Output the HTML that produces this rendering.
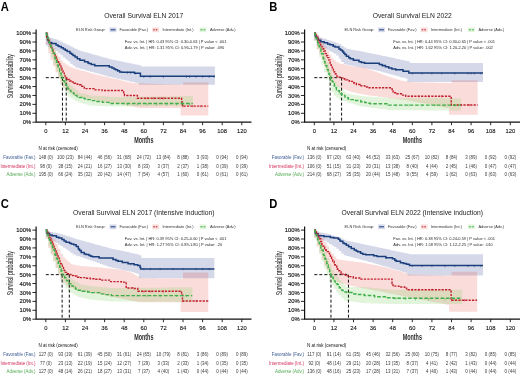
<!DOCTYPE html>
<html><head><meta charset="utf-8"><style>
html,body{margin:0;padding:0;background:#fff;width:520px;height:374px;overflow:hidden}
svg{display:block;filter:blur(0.25px)}
text{font-family:"Liberation Sans", sans-serif}
</style></head><body>
<svg width="520" height="374" viewBox="0 0 520 374">
<rect width="520" height="374" fill="#fff"/>
<g transform="translate(0,0)">
<text transform="translate(0.80,10.80) scale(0.92,1)" font-size="12.2" text-anchor="start" fill="#000" font-weight="bold" >A</text>
<text transform="translate(143.80,18.00) scale(0.845,1)" font-size="8.0" text-anchor="middle" fill="#222" font-weight="normal" >Overall Survival ELN 2017</text>
<text transform="translate(76.10,31.10)" font-size="3.95" text-anchor="start" fill="#333" font-weight="normal" >ELN Risk Group:</text>
<rect x="109.6" y="27.400000000000002" width="6.8" height="4.8" fill="rgba(70,85,160,0.23)"/>
<line x1="110.5" y1="29.8" x2="115.5" y2="29.8" stroke="#1b3f7c" stroke-width="1.0" />
<text transform="translate(119.40,31.10)" font-size="3.95" text-anchor="start" fill="#333" font-weight="normal" >Favorable (Fav.)</text>
<rect x="152.3" y="27.400000000000002" width="6.8" height="4.8" fill="rgba(230,80,70,0.20)"/>
<line x1="153.20000000000002" y1="29.8" x2="158.20000000000002" y2="29.8" stroke="#c0202c" stroke-width="1.0" stroke-dasharray="1.6,0.9"/>
<text transform="translate(162.40,31.10)" font-size="3.95" text-anchor="start" fill="#333" font-weight="normal" >Intermediate (Int.)</text>
<rect x="199.5" y="27.400000000000002" width="6.8" height="4.8" fill="rgba(120,210,90,0.21)"/>
<line x1="200.4" y1="29.8" x2="205.4" y2="29.8" stroke="#3fae48" stroke-width="1.0" stroke-dasharray="2.2,1"/>
<text transform="translate(209.90,31.10)" font-size="3.95" text-anchor="start" fill="#333" font-weight="normal" >Adverse (Adv.)</text>
<text transform="translate(124.80,43.10)" font-size="4.0" text-anchor="start" fill="#2a2a2a" font-weight="normal" >Fav. vs. Int. | HR: 0.43 95% CI: 0.30-0.63 | P value &lt; .001</text>
<text transform="translate(124.80,48.90)" font-size="4.0" text-anchor="start" fill="#2a2a2a" font-weight="normal" >Adv. vs. Int. | HR: 1.31 95% CI: 0.96-1.79 | P value: .090</text>
<path d="M45.80,33.10 H48.25V37.28 H50.70V38.08 H53.15V38.64 H55.60V39.45 H58.05V40.62 H60.50V41.79 H62.95V42.96 H65.40V44.13 H67.85V45.30 H70.30V46.47 H72.75V47.77 H75.20V49.08 H77.65V50.30 H80.10V50.98 H82.55V51.67 H85.00V52.35 H87.45V53.03 H89.90V53.72 H92.35V54.40 H94.80V55.09 H97.25V55.77 H99.70V56.46 H102.15V57.14 H104.60V57.82 H107.05V58.51 H109.50V59.19 H111.95V59.86 H114.40V60.35 H116.85V60.83 H119.30V61.31 H121.75V61.79 H124.20V62.28 H126.65V62.76 H129.10V63.24 H131.55V63.73 H134.00V64.21 H136.45V64.69 H138.90V65.18 H141.35V66.51 H143.80V66.51 H146.25V66.51 H148.70V66.51 H151.15V66.51 H153.60V66.51 H156.05V66.51 H158.50V66.51 H160.95V66.51 H163.40V66.51 H165.85V66.51 H168.30V66.51 H170.75V66.51 H173.20V66.51 H175.65V66.51 H178.10V66.51 H180.55V66.51 H183.00V66.51 H185.45V66.51 H187.90V66.51 H190.35V66.51 H192.80V66.51 H195.25V66.51 H197.70V66.51 H200.15V66.51 H202.60V66.51 H205.05V66.51 H207.50V66.51 H209.95V66.51 H212.40V66.51 H214.85V66.51 V84.78 V84.78H212.40 V84.78H209.95 V84.78H207.50 V84.78H205.05 V84.78H202.60 V84.78H200.15 V84.78H197.70 V84.78H195.25 V84.78H192.80 V84.78H190.35 V84.78H187.90 V84.78H185.45 V84.78H183.00 V84.78H180.55 V84.78H178.10 V84.78H175.65 V84.78H173.20 V84.78H170.75 V84.78H168.30 V84.78H165.85 V84.78H163.40 V84.78H160.95 V84.78H158.50 V84.78H156.05 V84.78H153.60 V84.78H151.15 V84.78H148.70 V84.78H146.25 V84.78H143.80 V84.78H141.35 V84.78H138.90 V83.00H136.45 V82.46H134.00 V81.92H131.55 V81.38H129.10 V80.84H126.65 V80.30H124.20 V79.76H121.75 V79.22H119.30 V78.68H116.85 V78.14H114.40 V77.60H111.95 V77.06H109.50 V76.39H107.05 V75.72H104.60 V75.04H102.15 V74.36H99.70 V73.68H97.25 V73.00H94.80 V72.33H92.35 V71.65H89.90 V70.97H87.45 V70.29H85.00 V69.62H82.55 V68.94H80.10 V68.26H77.65 V67.58H75.20 V65.71H72.75 V63.66H70.30 V61.61H67.85 V59.52H65.40 V57.44H62.95 V55.35H60.50 V53.26H58.05 V51.17H55.60 V49.08H53.15 V47.82H50.70 V47.12H48.25 V45.63H45.80 V33.10Z" fill="rgba(70,85,160,0.23)"/>
<path d="M45.80,33.10 H48.25V38.24 H50.70V43.30 H53.15V48.12 H55.60V52.95 H58.05V56.75 H60.50V60.40 H62.95V62.73 H65.40V64.40 H67.85V66.07 H70.30V67.33 H72.75V68.13 H75.20V68.94 H77.65V69.72 H80.10V70.40 H82.55V71.08 H85.00V71.76 H87.45V72.45 H89.90V73.13 H92.35V73.81 H94.80V74.48 H97.25V75.05 H99.70V75.62 H102.15V76.20 H104.60V76.77 H107.05V77.34 H109.50V77.91 H111.95V78.48 H114.40V79.05 H116.85V79.62 H119.30V80.20 H121.75V80.78 H124.20V81.39 H126.65V81.99 H129.10V82.59 H131.55V83.02 H134.00V83.11 H136.45V83.20 H138.90V83.28 H141.35V83.37 H143.80V83.46 H146.25V83.54 H148.70V83.63 H151.15V83.71 H153.60V83.80 H156.05V83.89 H158.50V83.97 H160.95V84.06 H163.40V84.15 H165.85V84.23 H168.30V84.32 H170.75V84.40 H173.20V84.49 H175.65V84.58 H178.10V84.66 H180.55V84.75 H183.00V82.37 H185.45V82.37 H187.90V82.37 H190.35V82.37 H192.80V82.37 H195.25V82.37 H197.70V82.37 H200.15V82.37 H202.60V82.37 H205.05V82.37 H207.50V82.37 H208.31V82.37 V115.52 V115.52H207.50 V115.52H205.05 V115.52H202.60 V115.52H200.15 V115.52H197.70 V115.52H195.25 V115.52H192.80 V115.52H190.35 V115.52H187.90 V115.52H185.45 V115.52H183.00 V115.52H180.55 V107.94H178.10 V107.94H175.65 V107.94H173.20 V107.94H170.75 V107.94H168.30 V107.94H165.85 V107.94H163.40 V107.94H160.95 V107.94H158.50 V107.94H156.05 V107.94H153.60 V107.94H151.15 V107.94H148.70 V107.94H146.25 V107.94H143.80 V107.94H141.35 V107.94H138.90 V107.59H136.45 V107.05H134.00 V106.52H131.55 V105.98H129.10 V105.45H126.65 V104.91H124.20 V104.38H121.75 V104.06H119.30 V103.74H116.85 V103.42H114.40 V103.10H111.95 V102.78H109.50 V102.46H107.05 V102.13H104.60 V101.81H102.15 V101.49H99.70 V101.17H97.25 V100.60H94.80 V100.04H92.35 V99.47H89.90 V98.90H87.45 V98.33H85.00 V97.76H82.55 V97.19H80.10 V96.62H77.65 V96.04H75.20 V95.47H72.75 V93.56H70.30 V91.65H67.85 V89.74H65.40 V87.30H62.95 V83.40H60.50 V78.24H58.05 V72.45H55.60 V66.27H53.15 V59.89H50.70 V53.51H48.25 V43.89H45.80 V33.10Z" fill="rgba(230,80,70,0.20)"/>
<path d="M45.80,33.10 H48.25V38.45 H50.70V43.79 H53.15V49.14 H55.60V55.38 H58.05V62.06 H60.50V68.74 H62.95V74.64 H65.40V78.99 H67.85V83.33 H70.30V86.11 H72.75V88.12 H75.20V90.12 H77.65V92.13 H80.10V93.18 H82.55V93.75 H85.00V94.32 H87.45V94.90 H89.90V95.47 H92.35V95.65 H94.80V95.83 H97.25V96.00 H99.70V96.18 H102.15V96.36 H104.60V96.54 H107.05V96.72 H109.50V96.90 H111.95V97.07 H114.40V97.25 H116.85V97.21 H119.30V97.17 H121.75V97.14 H124.20V97.10 H126.65V97.06 H129.10V97.02 H131.55V96.98 H134.00V96.94 H136.45V96.90 H138.90V96.86 H141.35V96.82 H143.80V96.78 H146.25V96.75 H148.70V96.71 H151.15V96.67 H153.60V96.63 H156.05V96.59 H158.50V96.55 H160.95V96.51 H163.40V96.47 H165.85V96.43 H168.30V96.39 H170.75V96.36 H173.20V96.32 H175.65V96.28 H178.10V96.24 H180.55V96.20 H183.00V96.16 H185.45V96.12 H187.90V96.08 H190.35V96.04 H192.80V96.00 V105.72 V105.72H190.35 V105.74H187.90 V105.77H185.45 V105.80H183.00 V105.83H180.55 V105.86H178.10 V105.88H175.65 V105.91H173.20 V105.94H170.75 V105.97H168.30 V105.99H165.85 V106.02H163.40 V106.05H160.95 V106.08H158.50 V106.11H156.05 V106.13H153.60 V106.16H151.15 V106.19H148.70 V106.22H146.25 V106.25H143.80 V106.27H141.35 V106.30H138.90 V106.33H136.45 V106.36H134.00 V106.38H131.55 V106.41H129.10 V106.44H126.65 V106.47H124.20 V106.50H121.75 V106.52H119.30 V106.55H116.85 V106.58H114.40 V106.61H111.95 V106.47H109.50 V106.34H107.05 V106.21H104.60 V106.07H102.15 V105.94H99.70 V105.81H97.25 V105.67H94.80 V105.54H92.35 V105.40H89.90 V105.27H87.45 V104.51H85.00 V103.74H82.55 V102.98H80.10 V102.22H77.65 V101.19H75.20 V99.63H72.75 V98.07H70.30 V96.51H67.85 V93.91H65.40 V89.23H62.95 V84.56H60.50 V78.36H58.05 V71.41H55.60 V64.46H53.15 V57.16H50.70 V49.14H48.25 V41.12H45.80 V33.10Z" fill="rgba(120,210,90,0.21)"/>
<path d="M45.80,77.65H66.22" stroke="#111" stroke-width="1.0" stroke-dasharray="3,2" fill="none"/>
<path d="M62.46,77.65V122.20" stroke="#111" stroke-width="1.0" stroke-dasharray="3,2" fill="none"/>
<path d="M66.22,77.65V122.20" stroke="#111" stroke-width="1.0" stroke-dasharray="3,2" fill="none"/>
<path d="M45.80,33.10 H46.65V36.76 H47.55V39.22 H48.02V40.48 H49.11V42.58 H51.72V43.45 H56.02V45.11 H58.00V46.08 H59.02V46.58 H61.23V47.67 H63.35V49.00 H65.24V50.19 H67.18V51.42 H69.97V53.18 H71.55V54.30 H72.96V55.38 H75.00V56.93 H77.27V58.67 H79.88V60.22 H84.56V61.87 H87.98V63.08 H89.05V63.54 H91.26V64.52 H94.74V65.78 H109.26V67.06 H111.96V68.04 H113.96V69.04 H115.56V69.84 H117.60V70.86 H119.64V71.89 H121.94V72.27 H134.46V73.28 H140.43V76.34 H214.85" stroke="#1b3f7c" stroke-width="1.5" fill="none" />
<path d="M45.80,33.10 H46.81V37.16 H47.99V40.56 H49.15V43.09 H49.94V44.81 H50.88V47.01 H52.17V50.07 H53.03V52.08 H53.44V53.07 H54.08V54.58 H55.11V57.02 H56.17V59.39 H57.09V61.05 H57.50V61.79 H58.66V63.91 H59.78V65.95 H60.97V68.12 H61.94V69.99 H63.11V72.37 H64.31V74.79 H64.96V76.11 H65.51V77.21 H65.97V77.86 H66.87V78.63 H67.83V79.45 H69.57V80.93 H71.04V82.00 H74.14V83.22 H77.21V84.42 H78.21V84.82 H80.97V86.26 H84.24V88.08 H85.26V88.65 H93.92V89.86 H102.13V90.53 H123.70V92.74 H124.50V95.47 H137.38V98.32 H181.60V102.05 H182.37V106.16 H208.31" stroke="#c0202c" stroke-width="1.4" fill="none" stroke-dasharray="2.2,1.2"/>
<path d="M45.80,33.10 H46.33V34.55 H46.80V35.82 H47.51V37.75 H48.33V40.00 H49.09V42.08 H49.57V43.39 H50.66V46.35 H51.25V47.96 H52.43V51.18 H53.16V53.18 H54.72V57.47 H55.24V58.94 H55.90V60.79 H56.46V62.34 H57.39V64.94 H58.25V67.33 H58.70V68.60 H59.67V71.30 H60.33V73.15 H61.11V75.33 H62.17V78.25 H62.78V79.39 H63.61V80.96 H64.62V82.84 H65.83V85.10 H66.57V86.51 H67.91V89.02 H68.87V90.40 H70.87V91.90 H71.84V92.64 H73.51V93.89 H75.48V95.38 H76.92V96.46 H79.22V97.56 H82.11V98.27 H84.62V98.89 H87.72V99.65 H92.42V100.63 H97.02V101.43 H102.46V102.37 H108.93V103.49 H192.80" stroke="#3fae48" stroke-width="1.4" fill="none" stroke-dasharray="3.6,1.8"/>
<line x1="117.67" y1="69.80" x2="117.67" y2="72.00" stroke="#1b3f7c" stroke-width="0.6"/>
<line x1="127.46" y1="71.62" x2="127.46" y2="73.82" stroke="#1b3f7c" stroke-width="0.6"/>
<line x1="130.73" y1="71.88" x2="130.73" y2="74.08" stroke="#1b3f7c" stroke-width="0.6"/>
<line x1="135.63" y1="72.27" x2="135.63" y2="74.47" stroke="#1b3f7c" stroke-width="0.6"/>
<line x1="143.80" y1="75.66" x2="143.80" y2="77.86" stroke="#1b3f7c" stroke-width="0.6"/>
<line x1="150.33" y1="75.66" x2="150.33" y2="77.86" stroke="#1b3f7c" stroke-width="0.6"/>
<line x1="163.40" y1="75.66" x2="163.40" y2="77.86" stroke="#1b3f7c" stroke-width="0.6"/>
<line x1="186.26" y1="75.66" x2="186.26" y2="77.86" stroke="#1b3f7c" stroke-width="0.6"/>
<line x1="189.53" y1="75.66" x2="189.53" y2="77.86" stroke="#1b3f7c" stroke-width="0.6"/>
<line x1="196.06" y1="75.66" x2="196.06" y2="77.86" stroke="#1b3f7c" stroke-width="0.6"/>
<line x1="202.60" y1="75.66" x2="202.60" y2="77.86" stroke="#1b3f7c" stroke-width="0.6"/>
<line x1="209.13" y1="75.66" x2="209.13" y2="77.86" stroke="#1b3f7c" stroke-width="0.6"/>
<line x1="214.03" y1="75.66" x2="214.03" y2="77.86" stroke="#1b3f7c" stroke-width="0.6"/>
<line x1="147.06" y1="97.22" x2="147.06" y2="99.42" stroke="#c0202c" stroke-width="0.6"/>
<line x1="153.60" y1="97.22" x2="153.60" y2="99.42" stroke="#c0202c" stroke-width="0.6"/>
<line x1="160.13" y1="97.22" x2="160.13" y2="99.42" stroke="#c0202c" stroke-width="0.6"/>
<line x1="163.40" y1="97.22" x2="163.40" y2="99.42" stroke="#c0202c" stroke-width="0.6"/>
<line x1="183.00" y1="105.06" x2="183.00" y2="107.26" stroke="#c0202c" stroke-width="0.6"/>
<line x1="192.80" y1="105.06" x2="192.80" y2="107.26" stroke="#c0202c" stroke-width="0.6"/>
<line x1="200.96" y1="105.06" x2="200.96" y2="107.26" stroke="#c0202c" stroke-width="0.6"/>
<line x1="127.46" y1="103.28" x2="127.46" y2="105.48" stroke="#3fae48" stroke-width="0.6"/>
<line x1="137.26" y1="103.28" x2="137.26" y2="105.48" stroke="#3fae48" stroke-width="0.6"/>
<line x1="147.06" y1="103.28" x2="147.06" y2="105.48" stroke="#3fae48" stroke-width="0.6"/>
<line x1="156.86" y1="103.28" x2="156.86" y2="105.48" stroke="#3fae48" stroke-width="0.6"/>
<line x1="166.66" y1="103.28" x2="166.66" y2="105.48" stroke="#3fae48" stroke-width="0.6"/>
<line x1="176.46" y1="103.28" x2="176.46" y2="105.48" stroke="#3fae48" stroke-width="0.6"/>
<line x1="183.00" y1="103.28" x2="183.00" y2="105.48" stroke="#3fae48" stroke-width="0.6"/>
<line x1="189.53" y1="103.28" x2="189.53" y2="105.48" stroke="#3fae48" stroke-width="0.6"/>
<path d="M36.1,29.6V122.20H251.5" stroke="#111" stroke-width="1.2" fill="none"/>
<line x1="32.4" y1="122.20" x2="36.1" y2="122.20" stroke="#111" stroke-width="0.9"/>
<text transform="translate(31.10,124.25)" font-size="5.85" text-anchor="end" fill="#111" font-weight="normal" stroke="#111" stroke-width="0.14">0%</text>
<line x1="32.4" y1="113.29" x2="36.1" y2="113.29" stroke="#111" stroke-width="0.9"/>
<text transform="translate(31.10,115.34)" font-size="5.85" text-anchor="end" fill="#111" font-weight="normal" stroke="#111" stroke-width="0.14">10%</text>
<line x1="32.4" y1="104.38" x2="36.1" y2="104.38" stroke="#111" stroke-width="0.9"/>
<text transform="translate(31.10,106.43)" font-size="5.85" text-anchor="end" fill="#111" font-weight="normal" stroke="#111" stroke-width="0.14">20%</text>
<line x1="32.4" y1="95.47" x2="36.1" y2="95.47" stroke="#111" stroke-width="0.9"/>
<text transform="translate(31.10,97.52)" font-size="5.85" text-anchor="end" fill="#111" font-weight="normal" stroke="#111" stroke-width="0.14">30%</text>
<line x1="32.4" y1="86.56" x2="36.1" y2="86.56" stroke="#111" stroke-width="0.9"/>
<text transform="translate(31.10,88.61)" font-size="5.85" text-anchor="end" fill="#111" font-weight="normal" stroke="#111" stroke-width="0.14">40%</text>
<line x1="32.4" y1="77.65" x2="36.1" y2="77.65" stroke="#111" stroke-width="0.9"/>
<text transform="translate(31.10,79.70)" font-size="5.85" text-anchor="end" fill="#111" font-weight="normal" stroke="#111" stroke-width="0.14">50%</text>
<line x1="32.4" y1="68.74" x2="36.1" y2="68.74" stroke="#111" stroke-width="0.9"/>
<text transform="translate(31.10,70.79)" font-size="5.85" text-anchor="end" fill="#111" font-weight="normal" stroke="#111" stroke-width="0.14">60%</text>
<line x1="32.4" y1="59.83" x2="36.1" y2="59.83" stroke="#111" stroke-width="0.9"/>
<text transform="translate(31.10,61.88)" font-size="5.85" text-anchor="end" fill="#111" font-weight="normal" stroke="#111" stroke-width="0.14">70%</text>
<line x1="32.4" y1="50.92" x2="36.1" y2="50.92" stroke="#111" stroke-width="0.9"/>
<text transform="translate(31.10,52.97)" font-size="5.85" text-anchor="end" fill="#111" font-weight="normal" stroke="#111" stroke-width="0.14">80%</text>
<line x1="32.4" y1="42.01" x2="36.1" y2="42.01" stroke="#111" stroke-width="0.9"/>
<text transform="translate(31.10,44.06)" font-size="5.85" text-anchor="end" fill="#111" font-weight="normal" stroke="#111" stroke-width="0.14">90%</text>
<line x1="32.4" y1="33.10" x2="36.1" y2="33.10" stroke="#111" stroke-width="0.9"/>
<text transform="translate(31.10,35.15)" font-size="5.85" text-anchor="end" fill="#111" font-weight="normal" stroke="#111" stroke-width="0.14">100%</text>
<line x1="45.80" y1="122.2" x2="45.80" y2="125.2" stroke="#111" stroke-width="0.9"/>
<text transform="translate(45.80,132.90)" font-size="5.85" text-anchor="middle" fill="#111" font-weight="normal" stroke="#111" stroke-width="0.1">0</text>
<line x1="65.40" y1="122.2" x2="65.40" y2="125.2" stroke="#111" stroke-width="0.9"/>
<text transform="translate(65.40,132.90)" font-size="5.85" text-anchor="middle" fill="#111" font-weight="normal" stroke="#111" stroke-width="0.1">12</text>
<line x1="85.00" y1="122.2" x2="85.00" y2="125.2" stroke="#111" stroke-width="0.9"/>
<text transform="translate(85.00,132.90)" font-size="5.85" text-anchor="middle" fill="#111" font-weight="normal" stroke="#111" stroke-width="0.1">24</text>
<line x1="104.60" y1="122.2" x2="104.60" y2="125.2" stroke="#111" stroke-width="0.9"/>
<text transform="translate(104.60,132.90)" font-size="5.85" text-anchor="middle" fill="#111" font-weight="normal" stroke="#111" stroke-width="0.1">36</text>
<line x1="124.20" y1="122.2" x2="124.20" y2="125.2" stroke="#111" stroke-width="0.9"/>
<text transform="translate(124.20,132.90)" font-size="5.85" text-anchor="middle" fill="#111" font-weight="normal" stroke="#111" stroke-width="0.1">48</text>
<line x1="143.80" y1="122.2" x2="143.80" y2="125.2" stroke="#111" stroke-width="0.9"/>
<text transform="translate(143.80,132.90)" font-size="5.85" text-anchor="middle" fill="#111" font-weight="normal" stroke="#111" stroke-width="0.1">60</text>
<line x1="163.40" y1="122.2" x2="163.40" y2="125.2" stroke="#111" stroke-width="0.9"/>
<text transform="translate(163.40,132.90)" font-size="5.85" text-anchor="middle" fill="#111" font-weight="normal" stroke="#111" stroke-width="0.1">72</text>
<line x1="183.00" y1="122.2" x2="183.00" y2="125.2" stroke="#111" stroke-width="0.9"/>
<text transform="translate(183.00,132.90)" font-size="5.85" text-anchor="middle" fill="#111" font-weight="normal" stroke="#111" stroke-width="0.1">84</text>
<line x1="202.60" y1="122.2" x2="202.60" y2="125.2" stroke="#111" stroke-width="0.9"/>
<text transform="translate(202.60,132.90)" font-size="5.85" text-anchor="middle" fill="#111" font-weight="normal" stroke="#111" stroke-width="0.1">96</text>
<line x1="222.20" y1="122.2" x2="222.20" y2="125.2" stroke="#111" stroke-width="0.9"/>
<text transform="translate(222.20,132.90)" font-size="5.85" text-anchor="middle" fill="#111" font-weight="normal" stroke="#111" stroke-width="0.1">108</text>
<line x1="241.80" y1="122.2" x2="241.80" y2="125.2" stroke="#111" stroke-width="0.9"/>
<text transform="translate(241.80,132.90)" font-size="5.85" text-anchor="middle" fill="#111" font-weight="normal" stroke="#111" stroke-width="0.1">120</text>
<text transform="translate(143.80,143.10) scale(0.64,1)" font-size="8.5" text-anchor="middle" fill="#2a2a2a" font-weight="bold" >Months</text>
<text transform="translate(13.4,76.2) rotate(-90) scale(0.56,1)" font-size="9.4" text-anchor="middle" fill="#2a2a2a" font-weight="normal" stroke="#2a2a2a" stroke-width="0.05">Survival probability</text>
<text transform="translate(38.40,150.00)" font-size="4.5" text-anchor="start" fill="#111" font-weight="normal" >N at risk (censored)</text>
<text transform="translate(35.50,158.80) scale(0.97,1)" font-size="4.6" text-anchor="end" fill="#3d5a94" font-weight="normal" >Favorable (Fav.)</text>
<text transform="translate(45.80,158.80) scale(0.9,1)" font-size="5.0" text-anchor="middle" fill="#3a3a3a" font-weight="normal" >148 (0)</text>
<text transform="translate(65.40,158.80) scale(0.9,1)" font-size="5.0" text-anchor="middle" fill="#3a3a3a" font-weight="normal" >100 (23)</text>
<text transform="translate(85.00,158.80) scale(0.9,1)" font-size="5.0" text-anchor="middle" fill="#3a3a3a" font-weight="normal" >84 (44)</text>
<text transform="translate(104.60,158.80) scale(0.9,1)" font-size="5.0" text-anchor="middle" fill="#3a3a3a" font-weight="normal" >46 (56)</text>
<text transform="translate(124.20,158.80) scale(0.9,1)" font-size="5.0" text-anchor="middle" fill="#3a3a3a" font-weight="normal" >31 (68)</text>
<text transform="translate(143.80,158.80) scale(0.9,1)" font-size="5.0" text-anchor="middle" fill="#3a3a3a" font-weight="normal" >24 (72)</text>
<text transform="translate(163.40,158.80) scale(0.9,1)" font-size="5.0" text-anchor="middle" fill="#3a3a3a" font-weight="normal" >13 (84)</text>
<text transform="translate(183.00,158.80) scale(0.9,1)" font-size="5.0" text-anchor="middle" fill="#3a3a3a" font-weight="normal" >8 (88)</text>
<text transform="translate(202.60,158.80) scale(0.9,1)" font-size="5.0" text-anchor="middle" fill="#3a3a3a" font-weight="normal" >3 (93)</text>
<text transform="translate(222.20,158.80) scale(0.9,1)" font-size="5.0" text-anchor="middle" fill="#3a3a3a" font-weight="normal" >0 (94)</text>
<text transform="translate(241.80,158.80) scale(0.9,1)" font-size="5.0" text-anchor="middle" fill="#3a3a3a" font-weight="normal" >0 (94)</text>
<text transform="translate(35.50,167.50) scale(0.97,1)" font-size="4.6" text-anchor="end" fill="#d2305f" font-weight="normal" >Intermediate (Int.)</text>
<text transform="translate(45.80,167.50) scale(0.9,1)" font-size="5.0" text-anchor="middle" fill="#3a3a3a" font-weight="normal" >98 (0)</text>
<text transform="translate(65.40,167.50) scale(0.9,1)" font-size="5.0" text-anchor="middle" fill="#3a3a3a" font-weight="normal" >38 (15)</text>
<text transform="translate(85.00,167.50) scale(0.9,1)" font-size="5.0" text-anchor="middle" fill="#3a3a3a" font-weight="normal" >24 (21)</text>
<text transform="translate(104.60,167.50) scale(0.9,1)" font-size="5.0" text-anchor="middle" fill="#3a3a3a" font-weight="normal" >16 (27)</text>
<text transform="translate(124.20,167.50) scale(0.9,1)" font-size="5.0" text-anchor="middle" fill="#3a3a3a" font-weight="normal" >13 (30)</text>
<text transform="translate(143.80,167.50) scale(0.9,1)" font-size="5.0" text-anchor="middle" fill="#3a3a3a" font-weight="normal" >8 (33)</text>
<text transform="translate(163.40,167.50) scale(0.9,1)" font-size="5.0" text-anchor="middle" fill="#3a3a3a" font-weight="normal" >3 (37)</text>
<text transform="translate(183.00,167.50) scale(0.9,1)" font-size="5.0" text-anchor="middle" fill="#3a3a3a" font-weight="normal" >2 (37)</text>
<text transform="translate(202.60,167.50) scale(0.9,1)" font-size="5.0" text-anchor="middle" fill="#3a3a3a" font-weight="normal" >1 (38)</text>
<text transform="translate(222.20,167.50) scale(0.9,1)" font-size="5.0" text-anchor="middle" fill="#3a3a3a" font-weight="normal" >0 (39)</text>
<text transform="translate(241.80,167.50) scale(0.9,1)" font-size="5.0" text-anchor="middle" fill="#3a3a3a" font-weight="normal" >0 (39)</text>
<text transform="translate(35.50,176.00) scale(0.97,1)" font-size="4.6" text-anchor="end" fill="#52a852" font-weight="normal" >Adverse (Adv.)</text>
<text transform="translate(45.80,176.00) scale(0.9,1)" font-size="5.0" text-anchor="middle" fill="#3a3a3a" font-weight="normal" >195 (0)</text>
<text transform="translate(65.40,176.00) scale(0.9,1)" font-size="5.0" text-anchor="middle" fill="#3a3a3a" font-weight="normal" >66 (24)</text>
<text transform="translate(85.00,176.00) scale(0.9,1)" font-size="5.0" text-anchor="middle" fill="#3a3a3a" font-weight="normal" >35 (32)</text>
<text transform="translate(104.60,176.00) scale(0.9,1)" font-size="5.0" text-anchor="middle" fill="#3a3a3a" font-weight="normal" >20 (42)</text>
<text transform="translate(124.20,176.00) scale(0.9,1)" font-size="5.0" text-anchor="middle" fill="#3a3a3a" font-weight="normal" >14 (47)</text>
<text transform="translate(143.80,176.00) scale(0.9,1)" font-size="5.0" text-anchor="middle" fill="#3a3a3a" font-weight="normal" >7 (54)</text>
<text transform="translate(163.40,176.00) scale(0.9,1)" font-size="5.0" text-anchor="middle" fill="#3a3a3a" font-weight="normal" >4 (57)</text>
<text transform="translate(183.00,176.00) scale(0.9,1)" font-size="5.0" text-anchor="middle" fill="#3a3a3a" font-weight="normal" >1 (60)</text>
<text transform="translate(202.60,176.00) scale(0.9,1)" font-size="5.0" text-anchor="middle" fill="#3a3a3a" font-weight="normal" >0 (61)</text>
<text transform="translate(222.20,176.00) scale(0.9,1)" font-size="5.0" text-anchor="middle" fill="#3a3a3a" font-weight="normal" >0 (61)</text>
<text transform="translate(241.80,176.00) scale(0.9,1)" font-size="5.0" text-anchor="middle" fill="#3a3a3a" font-weight="normal" >0 (61)</text>
</g>
<g transform="translate(268.5,0)">
<text transform="translate(0.80,10.80) scale(0.92,1)" font-size="12.2" text-anchor="start" fill="#000" font-weight="bold" >B</text>
<text transform="translate(143.80,18.00) scale(0.845,1)" font-size="8.0" text-anchor="middle" fill="#222" font-weight="normal" >Overall Survival ELN 2022</text>
<text transform="translate(76.10,31.10)" font-size="3.95" text-anchor="start" fill="#333" font-weight="normal" >ELN Risk Group:</text>
<rect x="109.6" y="27.400000000000002" width="6.8" height="4.8" fill="rgba(70,85,160,0.23)"/>
<line x1="110.5" y1="29.8" x2="115.5" y2="29.8" stroke="#1b3f7c" stroke-width="1.0" />
<text transform="translate(119.40,31.10)" font-size="3.95" text-anchor="start" fill="#333" font-weight="normal" >Favorable (Fav.)</text>
<rect x="152.3" y="27.400000000000002" width="6.8" height="4.8" fill="rgba(230,80,70,0.20)"/>
<line x1="153.20000000000002" y1="29.8" x2="158.20000000000002" y2="29.8" stroke="#c0202c" stroke-width="1.0" stroke-dasharray="1.6,0.9"/>
<text transform="translate(162.40,31.10)" font-size="3.95" text-anchor="start" fill="#333" font-weight="normal" >Intermediate (Int.)</text>
<rect x="199.5" y="27.400000000000002" width="6.8" height="4.8" fill="rgba(120,210,90,0.21)"/>
<line x1="200.4" y1="29.8" x2="205.4" y2="29.8" stroke="#3fae48" stroke-width="1.0" stroke-dasharray="2.2,1"/>
<text transform="translate(209.90,31.10)" font-size="3.95" text-anchor="start" fill="#333" font-weight="normal" >Adverse (Adv.)</text>
<text transform="translate(124.80,43.10)" font-size="4.0" text-anchor="start" fill="#2a2a2a" font-weight="normal" >Fav. vs. Int. | HR: 0.44 95% CI: 0.30-0.65 | P value &lt; .001</text>
<text transform="translate(124.80,48.90)" font-size="4.0" text-anchor="start" fill="#2a2a2a" font-weight="normal" >Adv. vs. Int. | HR: 1.62 95% CI: 1.20-2.20 | P value: .002</text>
<path d="M45.80,33.10 H48.25V35.58 H50.70V37.67 H53.15V38.24 H55.60V38.80 H58.05V39.68 H60.50V40.56 H62.95V41.44 H65.40V42.32 H67.85V43.20 H70.30V44.32 H72.75V45.89 H75.20V47.46 H77.65V48.68 H80.10V49.16 H82.55V49.65 H85.00V50.13 H87.45V50.62 H89.90V51.10 H92.35V51.59 H94.80V52.07 H97.25V52.56 H99.70V53.04 H102.15V53.53 H104.60V54.02 H107.05V54.50 H109.50V54.99 H111.95V55.48 H114.40V56.01 H116.85V56.53 H119.30V57.06 H121.75V57.58 H124.20V58.11 H126.65V58.63 H129.10V59.16 H131.55V59.68 H134.00V60.21 H136.45V60.73 H138.90V61.26 H141.35V63.04 H143.80V63.04 H146.25V63.04 H148.70V63.04 H151.15V63.04 H153.60V63.04 H156.05V63.04 H158.50V63.04 H160.95V63.04 H163.40V63.04 H165.85V63.04 H168.30V63.04 H170.75V63.04 H173.20V63.04 H175.65V63.04 H178.10V63.04 H180.55V63.04 H183.00V63.04 H185.45V63.04 H187.90V63.04 H190.35V63.04 H192.80V63.04 H195.25V63.04 H197.70V63.04 H200.15V63.04 H202.60V63.04 H205.05V63.04 H207.50V63.04 H209.95V63.04 H212.40V63.04 H214.52V63.04 V81.93 V81.93H212.40 V81.93H209.95 V81.93H207.50 V81.93H205.05 V81.93H202.60 V81.93H200.15 V81.93H197.70 V81.93H195.25 V81.93H192.80 V81.93H190.35 V81.93H187.90 V81.93H185.45 V81.93H183.00 V81.93H180.55 V81.93H178.10 V81.93H175.65 V81.93H173.20 V81.93H170.75 V81.93H168.30 V81.93H165.85 V81.93H163.40 V81.93H160.95 V81.93H158.50 V81.93H156.05 V81.93H153.60 V81.93H151.15 V81.93H148.70 V81.93H146.25 V81.93H143.80 V81.93H141.35 V81.93H138.90 V78.50H136.45 V77.82H134.00 V77.15H131.55 V76.48H129.10 V75.81H126.65 V75.13H124.20 V74.46H121.75 V73.79H119.30 V73.12H116.85 V72.45H114.40 V71.77H111.95 V71.10H109.50 V70.57H107.05 V70.08H104.60 V69.59H102.15 V69.10H99.70 V68.61H97.25 V68.12H94.80 V67.62H92.35 V67.13H89.90 V66.64H87.45 V66.15H85.00 V65.66H82.55 V65.17H80.10 V64.67H77.65 V64.18H75.20 V61.90H72.75 V58.72H70.30 V55.54H67.85 V53.65H65.40 V52.39H62.95 V51.13H60.50 V49.87H58.05 V48.61H55.60 V47.36H53.15 V46.55H50.70 V45.74H48.25 V40.03H45.80 V33.10Z" fill="rgba(70,85,160,0.23)"/>
<path d="M45.80,33.10 H48.25V35.33 H50.70V37.56 H53.15V42.01 H55.60V46.47 H58.05V50.45 H60.50V54.43 H62.95V58.41 H65.40V60.46 H67.85V62.22 H70.30V63.57 H72.75V64.12 H75.20V64.66 H77.65V65.20 H80.10V65.74 H82.55V66.18 H85.00V66.45 H87.45V66.72 H89.90V66.99 H92.35V67.26 H94.80V67.61 H97.25V68.52 H99.70V69.44 H102.15V70.35 H104.60V71.26 H107.05V72.17 H109.50V73.08 H111.95V73.99 H114.40V74.90 H116.85V75.81 H119.30V76.72 H121.75V77.53 H124.20V78.29 H126.65V79.06 H129.10V79.82 H131.55V80.47 H134.00V80.92 H136.45V81.36 H138.90V81.81 H141.35V82.12 H143.80V82.18 H146.25V82.23 H148.70V82.28 H151.15V82.33 H153.60V82.39 H156.05V82.44 H158.50V82.49 H160.95V82.54 H163.40V82.60 H165.85V82.65 H168.30V82.70 H170.75V82.75 H173.20V82.81 H175.65V82.86 H178.10V82.91 H180.55V82.96 H183.00V80.14 H185.45V80.14 H187.90V80.14 H190.35V80.14 H192.80V80.14 H195.25V80.14 H197.70V80.14 H200.15V80.14 H202.60V80.14 H205.05V80.14 H207.50V80.14 H209.13V80.14 V114.80 V114.80H207.50 V114.80H205.05 V114.80H202.60 V114.80H200.15 V114.80H197.70 V114.80H195.25 V114.80H192.80 V114.80H190.35 V114.80H187.90 V114.80H185.45 V114.80H183.00 V114.80H180.55 V108.10H178.10 V107.63H175.65 V107.16H173.20 V106.68H170.75 V106.21H168.30 V105.73H165.85 V105.26H163.40 V104.78H160.95 V104.31H158.50 V103.83H156.05 V103.36H153.60 V102.88H151.15 V102.41H148.70 V101.93H146.25 V101.46H143.80 V100.98H141.35 V100.51H138.90 V100.09H136.45 V99.78H134.00 V99.46H131.55 V99.15H129.10 V98.84H126.65 V98.53H124.20 V98.22H121.75 V97.91H119.30 V97.59H116.85 V97.28H114.40 V96.97H111.95 V96.66H109.50 V96.35H107.05 V96.03H104.60 V95.72H102.15 V95.41H99.70 V95.10H97.25 V94.79H94.80 V94.37H92.35 V93.75H89.90 V93.13H87.45 V92.51H85.00 V91.89H82.55 V91.26H80.10 V90.47H77.65 V89.57H75.20 V88.67H72.75 V87.76H70.30 V86.86H67.85 V84.68H65.40 V81.87H62.95 V78.60H60.50 V72.34H58.05 V66.09H55.60 V59.83H53.15 V54.48H50.70 V49.14H48.25 V41.12H45.80 V33.10Z" fill="rgba(230,80,70,0.20)"/>
<path d="M45.80,33.10 H48.25V38.45 H50.70V43.79 H53.15V49.14 H55.60V55.47 H58.05V62.29 H60.50V69.12 H62.95V75.50 H65.40V81.49 H67.85V85.18 H70.30V87.35 H72.75V89.51 H75.20V91.67 H77.65V93.71 H80.10V94.07 H82.55V94.43 H85.00V94.80 H87.45V95.16 H89.90V95.52 H92.35V95.88 H94.80V96.24 H97.25V96.46 H99.70V96.62 H102.15V96.78 H104.60V96.93 H107.05V97.09 H109.50V97.24 H111.95V97.40 H114.40V97.55 H116.85V97.71 H119.30V97.86 H121.75V98.02 H124.20V98.14 H126.65V98.15 H129.10V98.16 H131.55V98.17 H134.00V98.18 H136.45V98.19 H138.90V98.20 H141.35V98.21 H143.80V98.22 H146.25V98.23 H148.70V98.24 H151.15V98.25 H153.60V98.26 H156.05V98.27 H158.50V98.28 H160.95V98.29 H163.40V98.30 H165.85V98.31 H168.30V98.32 H170.75V98.33 H173.20V98.34 H175.65V98.34 H178.10V98.35 H180.55V98.36 H183.00V98.37 H185.45V98.38 H187.90V98.39 H190.35V98.40 H192.47V98.41 V110.62 V110.62H190.35 V110.60H187.90 V110.59H185.45 V110.57H183.00 V110.56H180.55 V110.54H178.10 V110.52H175.65 V110.51H173.20 V110.49H170.75 V110.48H168.30 V110.46H165.85 V110.44H163.40 V110.43H160.95 V110.41H158.50 V110.40H156.05 V110.38H153.60 V110.37H151.15 V110.35H148.70 V110.33H146.25 V110.32H143.80 V110.30H141.35 V110.29H138.90 V110.27H136.45 V110.25H134.00 V110.24H131.55 V110.22H129.10 V110.21H126.65 V110.19H124.20 V110.17H121.75 V109.92H119.30 V109.60H116.85 V109.29H114.40 V108.97H111.95 V108.65H109.50 V108.34H107.05 V108.02H104.60 V107.70H102.15 V107.39H99.70 V107.07H97.25 V106.75H94.80 V106.44H92.35 V106.06H89.90 V105.27H87.45 V104.48H85.00 V103.70H82.55 V102.91H80.10 V102.13H77.65 V101.34H75.20 V100.55H72.75 V99.54H70.30 V97.63H67.85 V95.72H65.40 V92.18H62.95 V86.19H60.50 V79.55H58.05 V72.15H55.60 V64.76H53.15 V57.16H50.70 V49.14H48.25 V41.12H45.80 V33.10Z" fill="rgba(120,210,90,0.21)"/>
<path d="M45.80,77.65H73.08" stroke="#111" stroke-width="1.0" stroke-dasharray="3,2" fill="none"/>
<path d="M61.64,77.65V122.20" stroke="#111" stroke-width="1.0" stroke-dasharray="3,2" fill="none"/>
<path d="M73.08,77.65V122.20" stroke="#111" stroke-width="1.0" stroke-dasharray="3,2" fill="none"/>
<path d="M45.80,33.10 H46.65V35.83 H47.55V37.17 H48.44V38.48 H49.66V40.29 H52.34V41.78 H55.75V42.85 H59.08V44.02 H61.43V44.85 H64.70V46.23 H66.54V47.06 H70.45V49.03 H72.03V49.99 H73.45V50.85 H74.33V51.91 H75.30V53.16 H76.40V54.60 H77.90V56.26 H80.25V57.75 H81.82V58.75 H84.90V60.20 H90.52V61.74 H92.87V62.38 H96.03V63.16 H110.84V64.52 H113.60V65.50 H116.89V66.68 H120.28V67.88 H123.41V68.99 H127.25V69.77 H134.55V71.15 H140.34V73.08 H214.52" stroke="#1b3f7c" stroke-width="1.5" fill="none" />
<path d="M45.80,33.10 H46.81V35.00 H47.99V37.21 H49.15V39.39 H49.94V40.87 H50.88V42.63 H52.17V45.15 H53.03V46.83 H54.03V48.80 H55.19V51.04 H56.78V53.63 H57.70V55.10 H58.11V55.76 H59.27V57.64 H60.39V60.11 H61.58V62.94 H62.55V65.23 H63.72V67.88 H64.92V70.34 H65.57V71.68 H66.12V72.79 H66.58V73.74 H67.48V75.59 H68.44V77.08 H71.65V77.83 H74.29V78.74 H76.41V79.46 H77.46V79.88 H79.20V80.64 H80.96V81.41 H84.00V82.74 H85.87V83.56 H87.95V84.46 H91.65V85.69 H96.23V87.00 H98.96V87.77 H123.57V90.92 H124.58V92.79 H128.42V93.72 H134.12V95.10 H137.18V96.32 H182.70V105.00 H209.13" stroke="#c0202c" stroke-width="1.4" fill="none" stroke-dasharray="2.2,1.2"/>
<path d="M45.80,33.10 H46.33V34.59 H46.80V35.91 H47.51V37.90 H48.33V40.21 H49.09V42.35 H49.57V43.71 H50.66V46.76 H51.25V48.42 H52.43V51.74 H53.16V53.80 H54.72V58.18 H55.24V59.66 H55.90V61.51 H56.46V63.08 H57.39V65.69 H58.25V68.10 H58.70V69.38 H59.67V72.09 H60.33V73.96 H61.11V76.15 H62.17V78.71 H62.78V79.94 H63.61V81.64 H64.62V83.67 H65.83V86.12 H66.57V87.64 H67.91V89.80 H68.87V90.77 H70.87V92.80 H71.84V93.79 H73.51V95.36 H76.43V97.06 H77.41V97.64 H79.71V98.98 H81.82V99.67 H86.21V100.57 H92.27V101.80 H96.38V102.66 H99.30V103.27 H101.63V103.76 H119.88V105.09 H192.47" stroke="#3fae48" stroke-width="1.4" fill="none" stroke-dasharray="3.6,1.8"/>
<line x1="114.40" y1="64.69" x2="114.40" y2="66.89" stroke="#1b3f7c" stroke-width="0.6"/>
<line x1="127.46" y1="68.71" x2="127.46" y2="70.91" stroke="#1b3f7c" stroke-width="0.6"/>
<line x1="143.80" y1="72.27" x2="143.80" y2="74.47" stroke="#1b3f7c" stroke-width="0.6"/>
<line x1="153.60" y1="72.27" x2="153.60" y2="74.47" stroke="#1b3f7c" stroke-width="0.6"/>
<line x1="163.40" y1="72.27" x2="163.40" y2="74.47" stroke="#1b3f7c" stroke-width="0.6"/>
<line x1="173.20" y1="72.27" x2="173.20" y2="74.47" stroke="#1b3f7c" stroke-width="0.6"/>
<line x1="186.26" y1="72.27" x2="186.26" y2="74.47" stroke="#1b3f7c" stroke-width="0.6"/>
<line x1="199.33" y1="72.27" x2="199.33" y2="74.47" stroke="#1b3f7c" stroke-width="0.6"/>
<line x1="202.60" y1="72.27" x2="202.60" y2="74.47" stroke="#1b3f7c" stroke-width="0.6"/>
<line x1="205.86" y1="72.27" x2="205.86" y2="74.47" stroke="#1b3f7c" stroke-width="0.6"/>
<line x1="212.40" y1="72.27" x2="212.40" y2="74.47" stroke="#1b3f7c" stroke-width="0.6"/>
<line x1="143.80" y1="95.26" x2="143.80" y2="97.46" stroke="#c0202c" stroke-width="0.6"/>
<line x1="150.33" y1="95.26" x2="150.33" y2="97.46" stroke="#c0202c" stroke-width="0.6"/>
<line x1="160.13" y1="95.26" x2="160.13" y2="97.46" stroke="#c0202c" stroke-width="0.6"/>
<line x1="173.20" y1="95.26" x2="173.20" y2="97.46" stroke="#c0202c" stroke-width="0.6"/>
<line x1="192.80" y1="103.90" x2="192.80" y2="106.10" stroke="#c0202c" stroke-width="0.6"/>
<line x1="200.96" y1="103.90" x2="200.96" y2="106.10" stroke="#c0202c" stroke-width="0.6"/>
<line x1="127.46" y1="104.17" x2="127.46" y2="106.37" stroke="#3fae48" stroke-width="0.6"/>
<line x1="140.53" y1="104.17" x2="140.53" y2="106.37" stroke="#3fae48" stroke-width="0.6"/>
<line x1="153.60" y1="104.17" x2="153.60" y2="106.37" stroke="#3fae48" stroke-width="0.6"/>
<line x1="166.66" y1="104.17" x2="166.66" y2="106.37" stroke="#3fae48" stroke-width="0.6"/>
<line x1="176.46" y1="104.17" x2="176.46" y2="106.37" stroke="#3fae48" stroke-width="0.6"/>
<line x1="186.26" y1="104.17" x2="186.26" y2="106.37" stroke="#3fae48" stroke-width="0.6"/>
<path d="M36.1,29.6V122.20H251.5" stroke="#111" stroke-width="1.2" fill="none"/>
<line x1="32.4" y1="122.20" x2="36.1" y2="122.20" stroke="#111" stroke-width="0.9"/>
<text transform="translate(31.10,124.25)" font-size="5.85" text-anchor="end" fill="#111" font-weight="normal" stroke="#111" stroke-width="0.14">0%</text>
<line x1="32.4" y1="113.29" x2="36.1" y2="113.29" stroke="#111" stroke-width="0.9"/>
<text transform="translate(31.10,115.34)" font-size="5.85" text-anchor="end" fill="#111" font-weight="normal" stroke="#111" stroke-width="0.14">10%</text>
<line x1="32.4" y1="104.38" x2="36.1" y2="104.38" stroke="#111" stroke-width="0.9"/>
<text transform="translate(31.10,106.43)" font-size="5.85" text-anchor="end" fill="#111" font-weight="normal" stroke="#111" stroke-width="0.14">20%</text>
<line x1="32.4" y1="95.47" x2="36.1" y2="95.47" stroke="#111" stroke-width="0.9"/>
<text transform="translate(31.10,97.52)" font-size="5.85" text-anchor="end" fill="#111" font-weight="normal" stroke="#111" stroke-width="0.14">30%</text>
<line x1="32.4" y1="86.56" x2="36.1" y2="86.56" stroke="#111" stroke-width="0.9"/>
<text transform="translate(31.10,88.61)" font-size="5.85" text-anchor="end" fill="#111" font-weight="normal" stroke="#111" stroke-width="0.14">40%</text>
<line x1="32.4" y1="77.65" x2="36.1" y2="77.65" stroke="#111" stroke-width="0.9"/>
<text transform="translate(31.10,79.70)" font-size="5.85" text-anchor="end" fill="#111" font-weight="normal" stroke="#111" stroke-width="0.14">50%</text>
<line x1="32.4" y1="68.74" x2="36.1" y2="68.74" stroke="#111" stroke-width="0.9"/>
<text transform="translate(31.10,70.79)" font-size="5.85" text-anchor="end" fill="#111" font-weight="normal" stroke="#111" stroke-width="0.14">60%</text>
<line x1="32.4" y1="59.83" x2="36.1" y2="59.83" stroke="#111" stroke-width="0.9"/>
<text transform="translate(31.10,61.88)" font-size="5.85" text-anchor="end" fill="#111" font-weight="normal" stroke="#111" stroke-width="0.14">70%</text>
<line x1="32.4" y1="50.92" x2="36.1" y2="50.92" stroke="#111" stroke-width="0.9"/>
<text transform="translate(31.10,52.97)" font-size="5.85" text-anchor="end" fill="#111" font-weight="normal" stroke="#111" stroke-width="0.14">80%</text>
<line x1="32.4" y1="42.01" x2="36.1" y2="42.01" stroke="#111" stroke-width="0.9"/>
<text transform="translate(31.10,44.06)" font-size="5.85" text-anchor="end" fill="#111" font-weight="normal" stroke="#111" stroke-width="0.14">90%</text>
<line x1="32.4" y1="33.10" x2="36.1" y2="33.10" stroke="#111" stroke-width="0.9"/>
<text transform="translate(31.10,35.15)" font-size="5.85" text-anchor="end" fill="#111" font-weight="normal" stroke="#111" stroke-width="0.14">100%</text>
<line x1="45.80" y1="122.2" x2="45.80" y2="125.2" stroke="#111" stroke-width="0.9"/>
<text transform="translate(45.80,132.90)" font-size="5.85" text-anchor="middle" fill="#111" font-weight="normal" stroke="#111" stroke-width="0.1">0</text>
<line x1="65.40" y1="122.2" x2="65.40" y2="125.2" stroke="#111" stroke-width="0.9"/>
<text transform="translate(65.40,132.90)" font-size="5.85" text-anchor="middle" fill="#111" font-weight="normal" stroke="#111" stroke-width="0.1">12</text>
<line x1="85.00" y1="122.2" x2="85.00" y2="125.2" stroke="#111" stroke-width="0.9"/>
<text transform="translate(85.00,132.90)" font-size="5.85" text-anchor="middle" fill="#111" font-weight="normal" stroke="#111" stroke-width="0.1">24</text>
<line x1="104.60" y1="122.2" x2="104.60" y2="125.2" stroke="#111" stroke-width="0.9"/>
<text transform="translate(104.60,132.90)" font-size="5.85" text-anchor="middle" fill="#111" font-weight="normal" stroke="#111" stroke-width="0.1">36</text>
<line x1="124.20" y1="122.2" x2="124.20" y2="125.2" stroke="#111" stroke-width="0.9"/>
<text transform="translate(124.20,132.90)" font-size="5.85" text-anchor="middle" fill="#111" font-weight="normal" stroke="#111" stroke-width="0.1">48</text>
<line x1="143.80" y1="122.2" x2="143.80" y2="125.2" stroke="#111" stroke-width="0.9"/>
<text transform="translate(143.80,132.90)" font-size="5.85" text-anchor="middle" fill="#111" font-weight="normal" stroke="#111" stroke-width="0.1">60</text>
<line x1="163.40" y1="122.2" x2="163.40" y2="125.2" stroke="#111" stroke-width="0.9"/>
<text transform="translate(163.40,132.90)" font-size="5.85" text-anchor="middle" fill="#111" font-weight="normal" stroke="#111" stroke-width="0.1">72</text>
<line x1="183.00" y1="122.2" x2="183.00" y2="125.2" stroke="#111" stroke-width="0.9"/>
<text transform="translate(183.00,132.90)" font-size="5.85" text-anchor="middle" fill="#111" font-weight="normal" stroke="#111" stroke-width="0.1">84</text>
<line x1="202.60" y1="122.2" x2="202.60" y2="125.2" stroke="#111" stroke-width="0.9"/>
<text transform="translate(202.60,132.90)" font-size="5.85" text-anchor="middle" fill="#111" font-weight="normal" stroke="#111" stroke-width="0.1">96</text>
<line x1="222.20" y1="122.2" x2="222.20" y2="125.2" stroke="#111" stroke-width="0.9"/>
<text transform="translate(222.20,132.90)" font-size="5.85" text-anchor="middle" fill="#111" font-weight="normal" stroke="#111" stroke-width="0.1">108</text>
<line x1="241.80" y1="122.2" x2="241.80" y2="125.2" stroke="#111" stroke-width="0.9"/>
<text transform="translate(241.80,132.90)" font-size="5.85" text-anchor="middle" fill="#111" font-weight="normal" stroke="#111" stroke-width="0.1">120</text>
<text transform="translate(143.80,143.10) scale(0.64,1)" font-size="8.5" text-anchor="middle" fill="#2a2a2a" font-weight="bold" >Months</text>
<text transform="translate(13.4,76.2) rotate(-90) scale(0.56,1)" font-size="9.4" text-anchor="middle" fill="#2a2a2a" font-weight="normal" stroke="#2a2a2a" stroke-width="0.05">Survival probability</text>
<text transform="translate(38.40,150.00)" font-size="4.5" text-anchor="start" fill="#111" font-weight="normal" >N at risk (censored)</text>
<text transform="translate(35.50,158.80) scale(0.97,1)" font-size="4.6" text-anchor="end" fill="#3d5a94" font-weight="normal" >Favorable (Fav.)</text>
<text transform="translate(45.80,158.80) scale(0.9,1)" font-size="5.0" text-anchor="middle" fill="#3a3a3a" font-weight="normal" >136 (0)</text>
<text transform="translate(65.40,158.80) scale(0.9,1)" font-size="5.0" text-anchor="middle" fill="#3a3a3a" font-weight="normal" >97 (20)</text>
<text transform="translate(85.00,158.80) scale(0.9,1)" font-size="5.0" text-anchor="middle" fill="#3a3a3a" font-weight="normal" >63 (40)</text>
<text transform="translate(104.60,158.80) scale(0.9,1)" font-size="5.0" text-anchor="middle" fill="#3a3a3a" font-weight="normal" >46 (52)</text>
<text transform="translate(124.20,158.80) scale(0.9,1)" font-size="5.0" text-anchor="middle" fill="#3a3a3a" font-weight="normal" >33 (63)</text>
<text transform="translate(143.80,158.80) scale(0.9,1)" font-size="5.0" text-anchor="middle" fill="#3a3a3a" font-weight="normal" >25 (67)</text>
<text transform="translate(163.40,158.80) scale(0.9,1)" font-size="5.0" text-anchor="middle" fill="#3a3a3a" font-weight="normal" >10 (82)</text>
<text transform="translate(183.00,158.80) scale(0.9,1)" font-size="5.0" text-anchor="middle" fill="#3a3a3a" font-weight="normal" >8 (84)</text>
<text transform="translate(202.60,158.80) scale(0.9,1)" font-size="5.0" text-anchor="middle" fill="#3a3a3a" font-weight="normal" >3 (89)</text>
<text transform="translate(222.20,158.80) scale(0.9,1)" font-size="5.0" text-anchor="middle" fill="#3a3a3a" font-weight="normal" >0 (92)</text>
<text transform="translate(241.80,158.80) scale(0.9,1)" font-size="5.0" text-anchor="middle" fill="#3a3a3a" font-weight="normal" >0 (92)</text>
<text transform="translate(35.50,167.50) scale(0.97,1)" font-size="4.6" text-anchor="end" fill="#d2305f" font-weight="normal" >Intermediate (Int.)</text>
<text transform="translate(45.80,167.50) scale(0.9,1)" font-size="5.0" text-anchor="middle" fill="#3a3a3a" font-weight="normal" >106 (0)</text>
<text transform="translate(65.40,167.50) scale(0.9,1)" font-size="5.0" text-anchor="middle" fill="#3a3a3a" font-weight="normal" >51 (15)</text>
<text transform="translate(85.00,167.50) scale(0.9,1)" font-size="5.0" text-anchor="middle" fill="#3a3a3a" font-weight="normal" >31 (23)</text>
<text transform="translate(104.60,167.50) scale(0.9,1)" font-size="5.0" text-anchor="middle" fill="#3a3a3a" font-weight="normal" >20 (31)</text>
<text transform="translate(124.20,167.50) scale(0.9,1)" font-size="5.0" text-anchor="middle" fill="#3a3a3a" font-weight="normal" >13 (38)</text>
<text transform="translate(143.80,167.50) scale(0.9,1)" font-size="5.0" text-anchor="middle" fill="#3a3a3a" font-weight="normal" >8 (40)</text>
<text transform="translate(163.40,167.50) scale(0.9,1)" font-size="5.0" text-anchor="middle" fill="#3a3a3a" font-weight="normal" >4 (44)</text>
<text transform="translate(183.00,167.50) scale(0.9,1)" font-size="5.0" text-anchor="middle" fill="#3a3a3a" font-weight="normal" >2 (45)</text>
<text transform="translate(202.60,167.50) scale(0.9,1)" font-size="5.0" text-anchor="middle" fill="#3a3a3a" font-weight="normal" >1 (46)</text>
<text transform="translate(222.20,167.50) scale(0.9,1)" font-size="5.0" text-anchor="middle" fill="#3a3a3a" font-weight="normal" >0 (47)</text>
<text transform="translate(241.80,167.50) scale(0.9,1)" font-size="5.0" text-anchor="middle" fill="#3a3a3a" font-weight="normal" >0 (47)</text>
<text transform="translate(35.50,176.00) scale(0.97,1)" font-size="4.6" text-anchor="end" fill="#52a852" font-weight="normal" >Adverse (Adv.)</text>
<text transform="translate(45.80,176.00) scale(0.9,1)" font-size="5.0" text-anchor="middle" fill="#3a3a3a" font-weight="normal" >214 (0)</text>
<text transform="translate(65.40,176.00) scale(0.9,1)" font-size="5.0" text-anchor="middle" fill="#3a3a3a" font-weight="normal" >68 (27)</text>
<text transform="translate(85.00,176.00) scale(0.9,1)" font-size="5.0" text-anchor="middle" fill="#3a3a3a" font-weight="normal" >35 (35)</text>
<text transform="translate(104.60,176.00) scale(0.9,1)" font-size="5.0" text-anchor="middle" fill="#3a3a3a" font-weight="normal" >20 (44)</text>
<text transform="translate(124.20,176.00) scale(0.9,1)" font-size="5.0" text-anchor="middle" fill="#3a3a3a" font-weight="normal" >15 (48)</text>
<text transform="translate(143.80,176.00) scale(0.9,1)" font-size="5.0" text-anchor="middle" fill="#3a3a3a" font-weight="normal" >9 (55)</text>
<text transform="translate(163.40,176.00) scale(0.9,1)" font-size="5.0" text-anchor="middle" fill="#3a3a3a" font-weight="normal" >4 (59)</text>
<text transform="translate(183.00,176.00) scale(0.9,1)" font-size="5.0" text-anchor="middle" fill="#3a3a3a" font-weight="normal" >1 (62)</text>
<text transform="translate(202.60,176.00) scale(0.9,1)" font-size="5.0" text-anchor="middle" fill="#3a3a3a" font-weight="normal" >0 (63)</text>
<text transform="translate(222.20,176.00) scale(0.9,1)" font-size="5.0" text-anchor="middle" fill="#3a3a3a" font-weight="normal" >0 (63)</text>
<text transform="translate(241.80,176.00) scale(0.9,1)" font-size="5.0" text-anchor="middle" fill="#3a3a3a" font-weight="normal" >0 (63)</text>
</g>
<g transform="translate(0,197)">
<text transform="translate(0.80,10.80) scale(0.92,1)" font-size="12.2" text-anchor="start" fill="#000" font-weight="bold" >C</text>
<text transform="translate(143.80,18.00) scale(0.845,1)" font-size="8.0" text-anchor="middle" fill="#222" font-weight="normal" >Overall Survival ELN 2017 (Intensive induction)</text>
<text transform="translate(76.10,31.10)" font-size="3.95" text-anchor="start" fill="#333" font-weight="normal" >ELN Risk Group:</text>
<rect x="109.6" y="27.400000000000002" width="6.8" height="4.8" fill="rgba(70,85,160,0.23)"/>
<line x1="110.5" y1="29.8" x2="115.5" y2="29.8" stroke="#1b3f7c" stroke-width="1.0" />
<text transform="translate(119.40,31.10)" font-size="3.95" text-anchor="start" fill="#333" font-weight="normal" >Favorable (Fav.)</text>
<rect x="152.3" y="27.400000000000002" width="6.8" height="4.8" fill="rgba(230,80,70,0.20)"/>
<line x1="153.20000000000002" y1="29.8" x2="158.20000000000002" y2="29.8" stroke="#c0202c" stroke-width="1.0" stroke-dasharray="1.6,0.9"/>
<text transform="translate(162.40,31.10)" font-size="3.95" text-anchor="start" fill="#333" font-weight="normal" >Intermediate (Int.)</text>
<rect x="199.5" y="27.400000000000002" width="6.8" height="4.8" fill="rgba(120,210,90,0.21)"/>
<line x1="200.4" y1="29.8" x2="205.4" y2="29.8" stroke="#3fae48" stroke-width="1.0" stroke-dasharray="2.2,1"/>
<text transform="translate(209.90,31.10)" font-size="3.95" text-anchor="start" fill="#333" font-weight="normal" >Adverse (Adv.)</text>
<text transform="translate(124.80,43.10)" font-size="4.0" text-anchor="start" fill="#2a2a2a" font-weight="normal" >Fav. vs. Int. | HR: 0.39 95% CI: 0.25-0.60 | P value &lt; .001</text>
<text transform="translate(124.80,48.90)" font-size="4.0" text-anchor="start" fill="#2a2a2a" font-weight="normal" >Adv. vs. Int. | HR: 1.27 95% CI: 0.89-1.80 | P value: .20</text>
<path d="M45.80,33.10 H48.25V34.44 H50.70V35.09 H53.15V35.39 H55.60V35.84 H58.05V36.59 H60.50V37.34 H62.95V38.09 H65.40V38.83 H67.85V39.58 H70.30V40.34 H72.75V41.15 H75.20V41.96 H77.65V42.64 H80.10V43.32 H82.55V44.00 H85.00V44.67 H87.45V45.35 H89.90V46.03 H92.35V46.71 H94.80V47.38 H97.25V48.06 H99.70V48.74 H102.15V49.42 H104.60V50.09 H107.05V50.77 H109.50V51.45 H111.95V52.05 H114.40V52.56 H116.85V53.07 H119.30V53.58 H121.75V54.09 H124.20V54.60 H126.65V55.12 H129.10V55.63 H131.55V56.14 H134.00V56.65 H136.45V57.16 H138.90V58.16 H141.35V60.99 H143.80V60.99 H146.25V60.99 H148.70V60.99 H151.15V60.99 H153.60V60.99 H156.05V60.99 H158.50V60.99 H160.95V60.99 H163.40V60.99 H165.85V60.99 H168.30V60.99 H170.75V60.99 H173.20V60.99 H175.65V60.99 H178.10V60.99 H180.55V60.99 H183.00V60.99 H185.45V60.99 H187.90V60.99 H190.35V60.99 H192.80V60.99 H195.25V60.99 H197.70V60.99 H200.15V60.99 H202.60V60.99 H205.05V60.99 H207.50V60.99 H209.95V60.99 H212.40V60.99 H214.36V60.99 V81.21 V81.21H212.40 V81.21H209.95 V81.21H207.50 V81.21H205.05 V81.21H202.60 V81.21H200.15 V81.21H197.70 V81.21H195.25 V81.21H192.80 V81.21H190.35 V81.21H187.90 V81.21H185.45 V81.21H183.00 V81.21H180.55 V81.21H178.10 V81.21H175.65 V81.21H173.20 V81.21H170.75 V81.21H168.30 V81.21H165.85 V81.21H163.40 V81.21H160.95 V81.21H158.50 V81.21H156.05 V81.21H153.60 V81.21H151.15 V81.21H148.70 V81.21H146.25 V81.21H143.80 V81.21H141.35 V81.21H138.90 V76.74H136.45 V75.66H134.00 V75.11H131.55 V74.56H129.10 V74.01H126.65 V73.46H124.20 V72.91H121.75 V72.36H119.30 V71.81H116.85 V71.26H114.40 V70.71H111.95 V70.16H109.50 V69.44H107.05 V68.60H104.60 V67.75H102.15 V66.90H99.70 V66.05H97.25 V65.20H94.80 V64.35H92.35 V63.50H89.90 V62.65H87.45 V61.80H85.00 V60.95H82.55 V60.10H80.10 V59.25H77.65 V58.40H75.20 V57.48H72.75 V55.66H70.30 V53.84H67.85 V52.22H65.40 V50.64H62.95 V49.06H60.50 V47.48H58.05 V45.90H55.60 V44.32H53.15 V43.28H50.70 V42.52H48.25 V39.78H45.80 V33.10Z" fill="rgba(70,85,160,0.23)"/>
<path d="M45.80,33.10 H48.25V35.33 H50.70V37.56 H53.15V42.33 H55.60V47.10 H58.05V51.87 H60.50V56.65 H62.95V60.57 H65.40V62.80 H67.85V65.03 H70.30V67.04 H72.75V67.63 H75.20V68.23 H77.65V68.77 H80.10V68.95 H82.55V69.14 H85.00V69.33 H87.45V69.52 H89.90V69.71 H92.35V69.90 H94.80V70.09 H97.25V70.35 H99.70V70.60 H102.15V70.85 H104.60V71.10 H107.05V71.35 H109.50V71.61 H111.95V71.86 H114.40V72.11 H116.85V72.36 H119.30V72.62 H121.75V73.10 H124.20V73.86 H126.65V74.61 H129.10V75.37 H131.55V76.35 H134.00V77.81 H136.45V79.27 H138.90V80.73 H141.35V81.23 H143.80V81.26 H146.25V81.28 H148.70V81.31 H151.15V81.34 H153.60V81.36 H156.05V81.39 H158.50V81.41 H160.95V81.44 H163.40V81.47 H165.85V81.49 H168.30V81.52 H170.75V81.55 H173.20V81.57 H175.65V81.60 H178.10V81.62 H180.55V81.65 H183.00V75.51 H185.45V75.51 H187.90V75.51 H190.35V75.51 H192.80V75.51 H195.25V75.51 H197.70V75.51 H200.15V75.51 H202.60V75.51 H205.05V75.51 H207.50V75.51 H208.31V75.51 V115.07 V115.07H207.50 V115.07H205.05 V115.07H202.60 V115.07H200.15 V115.07H197.70 V115.07H195.25 V115.07H192.80 V115.07H190.35 V115.07H187.90 V115.07H185.45 V115.07H183.00 V115.07H180.55 V105.27H178.10 V105.27H175.65 V105.27H173.20 V105.27H170.75 V105.27H168.30 V105.27H165.85 V105.27H163.40 V105.27H160.95 V105.27H158.50 V105.27H156.05 V105.27H153.60 V105.27H151.15 V105.27H148.70 V105.27H146.25 V105.27H143.80 V105.27H141.35 V105.27H138.90 V105.10H136.45 V104.58H134.00 V104.06H131.55 V103.55H129.10 V103.03H126.65 V102.51H124.20 V102.00H121.75 V101.48H119.30 V100.96H116.85 V100.45H114.40 V99.93H111.95 V99.41H109.50 V98.91H107.05 V98.45H104.60 V97.99H102.15 V97.53H99.70 V97.07H97.25 V96.61H94.80 V96.15H92.35 V95.69H89.90 V95.22H87.45 V94.76H85.00 V94.30H82.55 V93.84H80.10 V93.19H77.65 V92.45H75.20 V91.71H72.75 V90.97H70.30 V90.22H67.85 V87.95H65.40 V85.45H62.95 V82.94H60.50 V77.65H58.05 V70.97H55.60 V64.28H53.15 V57.60H50.70 V50.92H48.25 V42.01H45.80 V33.10Z" fill="rgba(230,80,70,0.20)"/>
<path d="M45.80,33.10 H48.25V37.91 H50.70V42.72 H53.15V47.53 H55.60V53.35 H58.05V59.67 H60.50V65.99 H62.95V72.30 H65.40V75.72 H67.85V79.14 H70.30V82.28 H72.75V83.59 H75.20V84.91 H77.65V86.22 H80.10V87.48 H82.55V87.91 H85.00V88.34 H87.45V88.77 H89.90V89.20 H92.35V89.44 H94.80V89.65 H97.25V89.87 H99.70V90.09 H102.15V90.31 H104.60V90.52 H107.05V90.74 H109.50V90.96 H111.95V91.00 H114.40V90.98 H116.85V90.96 H119.30V90.95 H121.75V90.93 H124.20V90.91 H126.65V90.89 H129.10V90.87 H131.55V90.85 H134.00V90.83 H136.45V90.82 H138.90V90.80 H141.35V90.78 H143.80V90.76 H146.25V90.74 H148.70V90.72 H151.15V90.70 H153.60V90.69 H156.05V90.67 H158.50V90.65 H160.95V90.63 H163.40V90.61 H165.85V90.59 H168.30V90.57 H170.75V90.55 H173.20V90.54 H175.65V90.52 H178.10V90.50 H180.55V90.48 H183.00V90.46 H185.45V90.44 H187.90V90.42 H190.35V90.41 H192.31V90.39 V105.00 V105.00H190.35 V104.99H187.90 V104.97H185.45 V104.95H183.00 V104.93H180.55 V104.91H178.10 V104.90H175.65 V104.88H173.20 V104.86H170.75 V104.84H168.30 V104.82H165.85 V104.80H163.40 V104.78H160.95 V104.77H158.50 V104.75H156.05 V104.73H153.60 V104.71H151.15 V104.69H148.70 V104.67H146.25 V104.65H143.80 V104.64H141.35 V104.62H138.90 V104.60H136.45 V104.58H134.00 V104.56H131.55 V104.54H129.10 V104.52H126.65 V104.51H124.20 V104.49H121.75 V104.47H119.30 V104.45H116.85 V104.43H114.40 V104.41H111.95 V104.39H109.50 V104.31H107.05 V104.05H104.60 V103.79H102.15 V103.53H99.70 V103.27H97.25 V103.01H94.80 V102.75H92.35 V102.48H89.90 V102.20H87.45 V101.64H85.00 V101.08H82.55 V100.52H80.10 V99.96H77.65 V98.70H75.20 V97.38H72.75 V96.07H70.30 V94.75H67.85 V91.35H65.40 V87.62H62.95 V83.89H60.50 V77.33H58.05 V70.77H55.60 V64.20H53.15 V57.16H50.70 V49.14H48.25 V41.12H45.80 V33.10Z" fill="rgba(120,210,90,0.21)"/>
<path d="M45.80,77.65H69.32" stroke="#111" stroke-width="1.0" stroke-dasharray="3,2" fill="none"/>
<path d="M62.13,77.65V122.20" stroke="#111" stroke-width="1.0" stroke-dasharray="3,2" fill="none"/>
<path d="M69.32,77.65V122.20" stroke="#111" stroke-width="1.0" stroke-dasharray="3,2" fill="none"/>
<path d="M45.80,33.10 H46.65V35.80 H47.55V36.57 H49.53V38.09 H52.14V38.84 H56.44V40.22 H58.87V41.11 H61.97V42.45 H64.09V43.89 H65.98V45.17 H69.54V46.33 H71.32V46.96 H73.72V47.83 H76.19V49.44 H78.32V52.07 H79.53V53.58 H81.19V55.62 H84.20V56.97 H86.16V57.62 H88.95V58.55 H90.75V59.15 H92.44V59.71 H99.07V60.93 H113.00V62.38 H115.92V63.39 H118.17V64.17 H122.33V65.50 H128.07V66.65 H134.07V67.84 H137.70V68.57 H140.02V70.31 H140.61V72.04 H214.36" stroke="#1b3f7c" stroke-width="1.5" fill="none" />
<path d="M45.80,33.10 H46.81V35.31 H47.99V37.88 H49.15V40.26 H49.94V41.81 H50.88V43.65 H52.17V46.34 H53.03V48.28 H53.44V49.23 H54.08V50.67 H55.11V53.02 H56.17V55.52 H57.09V57.74 H57.50V58.73 H58.08V60.14 H59.29V63.09 H59.93V64.67 H60.78V66.75 H61.35V68.17 H62.33V70.39 H63.47V72.26 H64.17V73.41 H64.70V74.27 H65.35V75.34 H66.72V76.63 H69.93V77.53 H72.57V78.59 H73.59V79.00 H76.66V80.23 H78.85V80.65 H85.48V81.30 H90.29V81.77 H94.89V82.23 H100.96V83.14 H110.61V84.58 H121.41V85.09 H126.19V90.94 H132.84V91.46 H137.73V94.25 H181.54V97.91 H182.48V104.02 H208.31" stroke="#c0202c" stroke-width="1.4" fill="none" stroke-dasharray="2.2,1.2"/>
<path d="M45.80,33.10 H46.33V34.52 H46.80V35.77 H47.51V37.66 H48.33V39.86 H49.09V41.90 H49.57V43.19 H50.66V46.09 H51.25V47.67 H52.43V50.83 H53.16V52.79 H54.72V56.95 H55.24V58.35 H55.90V60.12 H56.46V61.61 H57.39V64.09 H58.25V66.38 H58.70V67.60 H59.67V70.18 H60.33V71.96 H61.11V74.04 H62.17V76.87 H62.78V78.10 H63.61V79.30 H64.62V80.75 H65.83V82.48 H66.57V83.56 H67.91V85.48 H68.87V86.72 H70.87V88.33 H71.84V89.11 H73.51V90.45 H75.48V92.03 H76.92V93.19 H81.97V94.20 H87.48V95.03 H91.32V95.60 H99.70V96.85 H104.60V97.58 H111.30V98.58 H192.31" stroke="#3fae48" stroke-width="1.4" fill="none" stroke-dasharray="3.6,1.8"/>
<line x1="117.67" y1="62.89" x2="117.67" y2="65.09" stroke="#1b3f7c" stroke-width="0.6"/>
<line x1="130.73" y1="66.08" x2="130.73" y2="68.28" stroke="#1b3f7c" stroke-width="0.6"/>
<line x1="143.80" y1="70.94" x2="143.80" y2="73.14" stroke="#1b3f7c" stroke-width="0.6"/>
<line x1="150.33" y1="70.94" x2="150.33" y2="73.14" stroke="#1b3f7c" stroke-width="0.6"/>
<line x1="160.13" y1="70.94" x2="160.13" y2="73.14" stroke="#1b3f7c" stroke-width="0.6"/>
<line x1="173.20" y1="70.94" x2="173.20" y2="73.14" stroke="#1b3f7c" stroke-width="0.6"/>
<line x1="183.00" y1="70.94" x2="183.00" y2="73.14" stroke="#1b3f7c" stroke-width="0.6"/>
<line x1="196.06" y1="70.94" x2="196.06" y2="73.14" stroke="#1b3f7c" stroke-width="0.6"/>
<line x1="202.60" y1="70.94" x2="202.60" y2="73.14" stroke="#1b3f7c" stroke-width="0.6"/>
<line x1="209.13" y1="70.94" x2="209.13" y2="73.14" stroke="#1b3f7c" stroke-width="0.6"/>
<line x1="143.80" y1="93.48" x2="143.80" y2="95.68" stroke="#c0202c" stroke-width="0.6"/>
<line x1="150.33" y1="93.48" x2="150.33" y2="95.68" stroke="#c0202c" stroke-width="0.6"/>
<line x1="163.40" y1="93.48" x2="163.40" y2="95.68" stroke="#c0202c" stroke-width="0.6"/>
<line x1="183.00" y1="102.92" x2="183.00" y2="105.12" stroke="#c0202c" stroke-width="0.6"/>
<line x1="196.06" y1="102.92" x2="196.06" y2="105.12" stroke="#c0202c" stroke-width="0.6"/>
<line x1="124.20" y1="97.60" x2="124.20" y2="99.80" stroke="#3fae48" stroke-width="0.6"/>
<line x1="137.26" y1="97.63" x2="137.26" y2="99.83" stroke="#3fae48" stroke-width="0.6"/>
<line x1="147.06" y1="97.66" x2="147.06" y2="99.86" stroke="#3fae48" stroke-width="0.6"/>
<line x1="160.13" y1="97.68" x2="160.13" y2="99.88" stroke="#3fae48" stroke-width="0.6"/>
<line x1="176.46" y1="97.72" x2="176.46" y2="99.92" stroke="#3fae48" stroke-width="0.6"/>
<line x1="186.26" y1="97.74" x2="186.26" y2="99.94" stroke="#3fae48" stroke-width="0.6"/>
<path d="M36.1,29.6V122.20H251.5" stroke="#111" stroke-width="1.2" fill="none"/>
<line x1="32.4" y1="122.20" x2="36.1" y2="122.20" stroke="#111" stroke-width="0.9"/>
<text transform="translate(31.10,124.25)" font-size="5.85" text-anchor="end" fill="#111" font-weight="normal" stroke="#111" stroke-width="0.14">0%</text>
<line x1="32.4" y1="113.29" x2="36.1" y2="113.29" stroke="#111" stroke-width="0.9"/>
<text transform="translate(31.10,115.34)" font-size="5.85" text-anchor="end" fill="#111" font-weight="normal" stroke="#111" stroke-width="0.14">10%</text>
<line x1="32.4" y1="104.38" x2="36.1" y2="104.38" stroke="#111" stroke-width="0.9"/>
<text transform="translate(31.10,106.43)" font-size="5.85" text-anchor="end" fill="#111" font-weight="normal" stroke="#111" stroke-width="0.14">20%</text>
<line x1="32.4" y1="95.47" x2="36.1" y2="95.47" stroke="#111" stroke-width="0.9"/>
<text transform="translate(31.10,97.52)" font-size="5.85" text-anchor="end" fill="#111" font-weight="normal" stroke="#111" stroke-width="0.14">30%</text>
<line x1="32.4" y1="86.56" x2="36.1" y2="86.56" stroke="#111" stroke-width="0.9"/>
<text transform="translate(31.10,88.61)" font-size="5.85" text-anchor="end" fill="#111" font-weight="normal" stroke="#111" stroke-width="0.14">40%</text>
<line x1="32.4" y1="77.65" x2="36.1" y2="77.65" stroke="#111" stroke-width="0.9"/>
<text transform="translate(31.10,79.70)" font-size="5.85" text-anchor="end" fill="#111" font-weight="normal" stroke="#111" stroke-width="0.14">50%</text>
<line x1="32.4" y1="68.74" x2="36.1" y2="68.74" stroke="#111" stroke-width="0.9"/>
<text transform="translate(31.10,70.79)" font-size="5.85" text-anchor="end" fill="#111" font-weight="normal" stroke="#111" stroke-width="0.14">60%</text>
<line x1="32.4" y1="59.83" x2="36.1" y2="59.83" stroke="#111" stroke-width="0.9"/>
<text transform="translate(31.10,61.88)" font-size="5.85" text-anchor="end" fill="#111" font-weight="normal" stroke="#111" stroke-width="0.14">70%</text>
<line x1="32.4" y1="50.92" x2="36.1" y2="50.92" stroke="#111" stroke-width="0.9"/>
<text transform="translate(31.10,52.97)" font-size="5.85" text-anchor="end" fill="#111" font-weight="normal" stroke="#111" stroke-width="0.14">80%</text>
<line x1="32.4" y1="42.01" x2="36.1" y2="42.01" stroke="#111" stroke-width="0.9"/>
<text transform="translate(31.10,44.06)" font-size="5.85" text-anchor="end" fill="#111" font-weight="normal" stroke="#111" stroke-width="0.14">90%</text>
<line x1="32.4" y1="33.10" x2="36.1" y2="33.10" stroke="#111" stroke-width="0.9"/>
<text transform="translate(31.10,35.15)" font-size="5.85" text-anchor="end" fill="#111" font-weight="normal" stroke="#111" stroke-width="0.14">100%</text>
<line x1="45.80" y1="122.2" x2="45.80" y2="125.2" stroke="#111" stroke-width="0.9"/>
<text transform="translate(45.80,132.90)" font-size="5.85" text-anchor="middle" fill="#111" font-weight="normal" stroke="#111" stroke-width="0.1">0</text>
<line x1="65.40" y1="122.2" x2="65.40" y2="125.2" stroke="#111" stroke-width="0.9"/>
<text transform="translate(65.40,132.90)" font-size="5.85" text-anchor="middle" fill="#111" font-weight="normal" stroke="#111" stroke-width="0.1">12</text>
<line x1="85.00" y1="122.2" x2="85.00" y2="125.2" stroke="#111" stroke-width="0.9"/>
<text transform="translate(85.00,132.90)" font-size="5.85" text-anchor="middle" fill="#111" font-weight="normal" stroke="#111" stroke-width="0.1">24</text>
<line x1="104.60" y1="122.2" x2="104.60" y2="125.2" stroke="#111" stroke-width="0.9"/>
<text transform="translate(104.60,132.90)" font-size="5.85" text-anchor="middle" fill="#111" font-weight="normal" stroke="#111" stroke-width="0.1">36</text>
<line x1="124.20" y1="122.2" x2="124.20" y2="125.2" stroke="#111" stroke-width="0.9"/>
<text transform="translate(124.20,132.90)" font-size="5.85" text-anchor="middle" fill="#111" font-weight="normal" stroke="#111" stroke-width="0.1">48</text>
<line x1="143.80" y1="122.2" x2="143.80" y2="125.2" stroke="#111" stroke-width="0.9"/>
<text transform="translate(143.80,132.90)" font-size="5.85" text-anchor="middle" fill="#111" font-weight="normal" stroke="#111" stroke-width="0.1">60</text>
<line x1="163.40" y1="122.2" x2="163.40" y2="125.2" stroke="#111" stroke-width="0.9"/>
<text transform="translate(163.40,132.90)" font-size="5.85" text-anchor="middle" fill="#111" font-weight="normal" stroke="#111" stroke-width="0.1">72</text>
<line x1="183.00" y1="122.2" x2="183.00" y2="125.2" stroke="#111" stroke-width="0.9"/>
<text transform="translate(183.00,132.90)" font-size="5.85" text-anchor="middle" fill="#111" font-weight="normal" stroke="#111" stroke-width="0.1">84</text>
<line x1="202.60" y1="122.2" x2="202.60" y2="125.2" stroke="#111" stroke-width="0.9"/>
<text transform="translate(202.60,132.90)" font-size="5.85" text-anchor="middle" fill="#111" font-weight="normal" stroke="#111" stroke-width="0.1">96</text>
<line x1="222.20" y1="122.2" x2="222.20" y2="125.2" stroke="#111" stroke-width="0.9"/>
<text transform="translate(222.20,132.90)" font-size="5.85" text-anchor="middle" fill="#111" font-weight="normal" stroke="#111" stroke-width="0.1">108</text>
<line x1="241.80" y1="122.2" x2="241.80" y2="125.2" stroke="#111" stroke-width="0.9"/>
<text transform="translate(241.80,132.90)" font-size="5.85" text-anchor="middle" fill="#111" font-weight="normal" stroke="#111" stroke-width="0.1">120</text>
<text transform="translate(143.80,143.10) scale(0.64,1)" font-size="8.5" text-anchor="middle" fill="#2a2a2a" font-weight="bold" >Months</text>
<text transform="translate(13.4,76.2) rotate(-90) scale(0.56,1)" font-size="9.4" text-anchor="middle" fill="#2a2a2a" font-weight="normal" stroke="#2a2a2a" stroke-width="0.05">Survival probability</text>
<text transform="translate(38.40,150.00)" font-size="4.5" text-anchor="start" fill="#111" font-weight="normal" >N at risk (censored)</text>
<text transform="translate(35.50,158.80) scale(0.97,1)" font-size="4.6" text-anchor="end" fill="#3d5a94" font-weight="normal" >Favorable (Fav.)</text>
<text transform="translate(45.80,158.80) scale(0.9,1)" font-size="5.0" text-anchor="middle" fill="#3a3a3a" font-weight="normal" >127 (0)</text>
<text transform="translate(65.40,158.80) scale(0.9,1)" font-size="5.0" text-anchor="middle" fill="#3a3a3a" font-weight="normal" >93 (19)</text>
<text transform="translate(85.00,158.80) scale(0.9,1)" font-size="5.0" text-anchor="middle" fill="#3a3a3a" font-weight="normal" >61 (39)</text>
<text transform="translate(104.60,158.80) scale(0.9,1)" font-size="5.0" text-anchor="middle" fill="#3a3a3a" font-weight="normal" >45 (50)</text>
<text transform="translate(124.20,158.80) scale(0.9,1)" font-size="5.0" text-anchor="middle" fill="#3a3a3a" font-weight="normal" >31 (61)</text>
<text transform="translate(143.80,158.80) scale(0.9,1)" font-size="5.0" text-anchor="middle" fill="#3a3a3a" font-weight="normal" >24 (65)</text>
<text transform="translate(163.40,158.80) scale(0.9,1)" font-size="5.0" text-anchor="middle" fill="#3a3a3a" font-weight="normal" >10 (79)</text>
<text transform="translate(183.00,158.80) scale(0.9,1)" font-size="5.0" text-anchor="middle" fill="#3a3a3a" font-weight="normal" >8 (81)</text>
<text transform="translate(202.60,158.80) scale(0.9,1)" font-size="5.0" text-anchor="middle" fill="#3a3a3a" font-weight="normal" >3 (86)</text>
<text transform="translate(222.20,158.80) scale(0.9,1)" font-size="5.0" text-anchor="middle" fill="#3a3a3a" font-weight="normal" >0 (89)</text>
<text transform="translate(241.80,158.80) scale(0.9,1)" font-size="5.0" text-anchor="middle" fill="#3a3a3a" font-weight="normal" >0 (89)</text>
<text transform="translate(35.50,167.50) scale(0.97,1)" font-size="4.6" text-anchor="end" fill="#d2305f" font-weight="normal" >Intermediate (Int.)</text>
<text transform="translate(45.80,167.50) scale(0.9,1)" font-size="5.0" text-anchor="middle" fill="#3a3a3a" font-weight="normal" >77 (0)</text>
<text transform="translate(65.40,167.50) scale(0.9,1)" font-size="5.0" text-anchor="middle" fill="#3a3a3a" font-weight="normal" >23 (13)</text>
<text transform="translate(85.00,167.50) scale(0.9,1)" font-size="5.0" text-anchor="middle" fill="#3a3a3a" font-weight="normal" >22 (19)</text>
<text transform="translate(104.60,167.50) scale(0.9,1)" font-size="5.0" text-anchor="middle" fill="#3a3a3a" font-weight="normal" >15 (24)</text>
<text transform="translate(124.20,167.50) scale(0.9,1)" font-size="5.0" text-anchor="middle" fill="#3a3a3a" font-weight="normal" >12 (27)</text>
<text transform="translate(143.80,167.50) scale(0.9,1)" font-size="5.0" text-anchor="middle" fill="#3a3a3a" font-weight="normal" >7 (29)</text>
<text transform="translate(163.40,167.50) scale(0.9,1)" font-size="5.0" text-anchor="middle" fill="#3a3a3a" font-weight="normal" >3 (33)</text>
<text transform="translate(183.00,167.50) scale(0.9,1)" font-size="5.0" text-anchor="middle" fill="#3a3a3a" font-weight="normal" >2 (33)</text>
<text transform="translate(202.60,167.50) scale(0.9,1)" font-size="5.0" text-anchor="middle" fill="#3a3a3a" font-weight="normal" >1 (34)</text>
<text transform="translate(222.20,167.50) scale(0.9,1)" font-size="5.0" text-anchor="middle" fill="#3a3a3a" font-weight="normal" >0 (35)</text>
<text transform="translate(241.80,167.50) scale(0.9,1)" font-size="5.0" text-anchor="middle" fill="#3a3a3a" font-weight="normal" >0 (35)</text>
<text transform="translate(35.50,176.00) scale(0.97,1)" font-size="4.6" text-anchor="end" fill="#52a852" font-weight="normal" >Adverse (Adv.)</text>
<text transform="translate(45.80,176.00) scale(0.9,1)" font-size="5.0" text-anchor="middle" fill="#3a3a3a" font-weight="normal" >127 (0)</text>
<text transform="translate(65.40,176.00) scale(0.9,1)" font-size="5.0" text-anchor="middle" fill="#3a3a3a" font-weight="normal" >48 (14)</text>
<text transform="translate(85.00,176.00) scale(0.9,1)" font-size="5.0" text-anchor="middle" fill="#3a3a3a" font-weight="normal" >26 (21)</text>
<text transform="translate(104.60,176.00) scale(0.9,1)" font-size="5.0" text-anchor="middle" fill="#3a3a3a" font-weight="normal" >18 (27)</text>
<text transform="translate(124.20,176.00) scale(0.9,1)" font-size="5.0" text-anchor="middle" fill="#3a3a3a" font-weight="normal" >13 (31)</text>
<text transform="translate(143.80,176.00) scale(0.9,1)" font-size="5.0" text-anchor="middle" fill="#3a3a3a" font-weight="normal" >7 (37)</text>
<text transform="translate(163.40,176.00) scale(0.9,1)" font-size="5.0" text-anchor="middle" fill="#3a3a3a" font-weight="normal" >4 (40)</text>
<text transform="translate(183.00,176.00) scale(0.9,1)" font-size="5.0" text-anchor="middle" fill="#3a3a3a" font-weight="normal" >1 (43)</text>
<text transform="translate(202.60,176.00) scale(0.9,1)" font-size="5.0" text-anchor="middle" fill="#3a3a3a" font-weight="normal" >0 (44)</text>
<text transform="translate(222.20,176.00) scale(0.9,1)" font-size="5.0" text-anchor="middle" fill="#3a3a3a" font-weight="normal" >0 (44)</text>
<text transform="translate(241.80,176.00) scale(0.9,1)" font-size="5.0" text-anchor="middle" fill="#3a3a3a" font-weight="normal" >0 (44)</text>
</g>
<g transform="translate(268.5,197)">
<text transform="translate(0.80,10.80) scale(0.92,1)" font-size="12.2" text-anchor="start" fill="#000" font-weight="bold" >D</text>
<text transform="translate(143.80,18.00) scale(0.845,1)" font-size="8.0" text-anchor="middle" fill="#222" font-weight="normal" >Overall Survival ELN 2022 (Intensive induction)</text>
<text transform="translate(76.10,31.10)" font-size="3.95" text-anchor="start" fill="#333" font-weight="normal" >ELN Risk Group:</text>
<rect x="109.6" y="27.400000000000002" width="6.8" height="4.8" fill="rgba(70,85,160,0.23)"/>
<line x1="110.5" y1="29.8" x2="115.5" y2="29.8" stroke="#1b3f7c" stroke-width="1.0" />
<text transform="translate(119.40,31.10)" font-size="3.95" text-anchor="start" fill="#333" font-weight="normal" >Favorable (Fav.)</text>
<rect x="152.3" y="27.400000000000002" width="6.8" height="4.8" fill="rgba(230,80,70,0.20)"/>
<line x1="153.20000000000002" y1="29.8" x2="158.20000000000002" y2="29.8" stroke="#c0202c" stroke-width="1.0" stroke-dasharray="1.6,0.9"/>
<text transform="translate(162.40,31.10)" font-size="3.95" text-anchor="start" fill="#333" font-weight="normal" >Intermediate (Int.)</text>
<rect x="199.5" y="27.400000000000002" width="6.8" height="4.8" fill="rgba(120,210,90,0.21)"/>
<line x1="200.4" y1="29.8" x2="205.4" y2="29.8" stroke="#3fae48" stroke-width="1.0" stroke-dasharray="2.2,1"/>
<text transform="translate(209.90,31.10)" font-size="3.95" text-anchor="start" fill="#333" font-weight="normal" >Adverse (Adv.)</text>
<text transform="translate(124.80,43.10)" font-size="4.0" text-anchor="start" fill="#2a2a2a" font-weight="normal" >Fav. vs. Int. | HR: 0.38 95% CI: 0.24-0.59 | P value &lt; .001</text>
<text transform="translate(124.80,48.90)" font-size="4.0" text-anchor="start" fill="#2a2a2a" font-weight="normal" >Adv. vs. Int. | HR: 1.58 95% CI: 1.12-2.25 | P value: .010</text>
<path d="M45.80,33.10 H48.25V34.55 H50.70V35.49 H53.15V35.83 H55.60V36.17 H58.05V36.65 H60.50V37.42 H62.95V38.18 H65.40V38.95 H67.85V39.72 H70.30V40.60 H72.75V41.73 H75.20V42.86 H77.65V43.79 H80.10V44.30 H82.55V44.82 H85.00V45.34 H87.45V45.85 H89.90V46.37 H92.35V46.89 H94.80V47.40 H97.25V47.92 H99.70V48.44 H102.15V48.96 H104.60V49.47 H107.05V49.99 H109.50V50.51 H111.95V51.03 H114.40V51.55 H116.85V52.08 H119.30V52.60 H121.75V53.13 H124.20V53.65 H126.65V54.18 H129.10V54.70 H131.55V55.23 H134.00V55.76 H136.45V56.28 H138.90V56.81 H141.35V57.34 H143.80V57.34 H146.25V57.34 H148.70V57.34 H151.15V57.34 H153.60V57.34 H156.05V57.34 H158.50V57.34 H160.95V57.34 H163.40V57.34 H165.85V57.34 H168.30V57.34 H170.75V57.34 H173.20V57.34 H175.65V57.34 H178.10V57.34 H180.55V57.34 H183.00V57.34 H185.45V57.34 H187.90V57.34 H190.35V57.34 H192.80V57.34 H195.25V57.34 H197.70V57.34 H200.15V57.34 H202.60V57.34 H205.05V57.34 H207.50V57.34 H209.95V57.34 H212.40V57.34 H214.52V57.34 V78.54 V78.54H212.40 V78.54H209.95 V78.54H207.50 V78.54H205.05 V78.54H202.60 V78.54H200.15 V78.54H197.70 V78.54H195.25 V78.54H192.80 V78.54H190.35 V78.54H187.90 V78.54H185.45 V78.54H183.00 V78.54H180.55 V78.54H178.10 V78.54H175.65 V78.54H173.20 V78.54H170.75 V78.54H168.30 V78.54H165.85 V78.54H163.40 V78.54H160.95 V78.54H158.50 V78.54H156.05 V78.54H153.60 V78.54H151.15 V78.54H148.70 V78.54H146.25 V78.54H143.80 V78.54H141.35 V78.54H138.90 V75.73H136.45 V75.00H134.00 V74.26H131.55 V73.53H129.10 V72.79H126.65 V72.05H124.20 V71.32H121.75 V70.58H119.30 V69.85H116.85 V69.11H114.40 V68.38H111.95 V67.64H109.50 V66.96H107.05 V66.29H104.60 V65.62H102.15 V64.95H99.70 V64.28H97.25 V63.62H94.80 V62.95H92.35 V62.28H89.90 V61.61H87.45 V60.94H85.00 V60.28H82.55 V59.61H80.10 V58.94H77.65 V58.27H75.20 V56.46H72.75 V54.09H70.30 V51.71H67.85 V49.91H65.40 V48.40H62.95 V46.88H60.50 V45.37H58.05 V43.85H55.60 V43.25H53.15 V43.11H50.70 V42.97H48.25 V39.49H45.80 V33.10Z" fill="rgba(70,85,160,0.23)"/>
<path d="M45.80,33.10 H48.25V34.88 H50.70V36.66 H53.15V40.85 H55.60V45.04 H58.05V49.23 H60.50V53.42 H62.95V56.80 H65.40V59.47 H67.85V62.15 H70.30V62.77 H72.75V63.08 H75.20V63.39 H77.65V63.71 H80.10V64.02 H82.55V64.33 H85.00V64.64 H87.45V64.95 H89.90V65.26 H92.35V65.57 H94.80V65.94 H97.25V66.46 H99.70V66.98 H102.15V67.50 H104.60V68.02 H107.05V68.54 H109.50V69.06 H111.95V69.58 H114.40V70.10 H116.85V70.62 H119.30V71.14 H121.75V71.77 H124.20V72.54 H126.65V73.30 H129.10V74.07 H131.55V74.84 H134.00V75.61 H136.45V76.37 H138.90V77.14 H141.35V77.67 H143.80V77.72 H146.25V77.77 H148.70V77.83 H151.15V77.88 H153.60V77.93 H156.05V77.98 H158.50V78.04 H160.95V78.09 H163.40V78.14 H165.85V78.19 H168.30V78.25 H170.75V78.30 H173.20V78.35 H175.65V78.40 H178.10V78.46 H180.55V78.51 H183.00V74.71 H185.45V74.71 H187.90V74.71 H190.35V74.71 H192.80V74.71 H195.25V74.71 H197.70V74.71 H200.15V74.71 H202.60V74.71 H205.05V74.71 H207.50V74.71 H208.64V74.71 V114.80 V114.80H207.50 V114.80H205.05 V114.80H202.60 V114.80H200.15 V114.80H197.70 V114.80H195.25 V114.80H192.80 V114.80H190.35 V114.80H187.90 V114.80H185.45 V114.80H183.00 V114.80H180.55 V107.67H178.10 V107.21H175.65 V106.75H173.20 V106.30H170.75 V105.84H168.30 V105.38H165.85 V104.92H163.40 V104.46H160.95 V104.01H158.50 V103.55H156.05 V103.09H153.60 V102.63H151.15 V102.18H148.70 V101.72H146.25 V101.26H143.80 V100.80H141.35 V100.34H138.90 V99.86H136.45 V99.36H134.00 V98.86H131.55 V98.36H129.10 V97.86H126.65 V97.37H124.20 V96.87H121.75 V96.37H119.30 V95.87H116.85 V95.37H114.40 V94.87H111.95 V94.37H109.50 V93.87H107.05 V93.38H104.60 V92.88H102.15 V92.38H99.70 V91.88H97.25 V91.38H94.80 V90.89H92.35 V90.42H89.90 V89.95H87.45 V89.47H85.00 V89.00H82.55 V88.53H80.10 V87.91H77.65 V87.19H75.20 V86.46H72.75 V85.74H70.30 V85.02H67.85 V82.80H65.40 V79.83H62.95 V76.86H60.50 V72.90H58.05 V68.44H55.60 V62.50H53.15 V55.82H50.70 V49.14H48.25 V41.12H45.80 V33.10Z" fill="rgba(230,80,70,0.20)"/>
<path d="M45.80,33.10 H48.25V38.45 H50.70V43.79 H53.15V49.14 H55.60V55.03 H58.05V61.20 H60.50V67.37 H62.95V72.99 H65.40V76.41 H67.85V79.83 H70.30V82.92 H72.75V85.38 H75.20V87.83 H77.65V90.12 H80.10V90.12 H82.55V90.12 H85.00V90.12 H87.45V90.12 H89.90V90.12 H92.35V90.12 H94.80V90.12 H97.25V90.29 H99.70V90.53 H102.15V90.76 H104.60V90.99 H107.05V91.23 H109.50V91.46 H111.95V91.69 H114.40V91.93 H116.85V92.16 H119.30V92.39 H121.75V92.63 H124.20V92.80 H126.65V92.80 H129.10V92.80 H131.55V92.80 H134.00V92.80 H136.45V92.80 H138.90V92.80 H141.35V92.80 H143.80V92.80 H146.25V92.80 H148.70V92.80 H151.15V92.80 H153.60V92.80 H156.05V92.80 H158.50V92.80 H160.95V92.80 H163.40V92.80 H165.85V92.80 H168.30V92.80 H170.75V92.80 H173.20V92.80 H175.65V92.80 H178.10V92.80 H180.55V92.80 H183.00V92.80 H185.45V92.80 H187.90V92.80 H190.35V92.80 H192.80V92.80 H193.61V92.80 V107.05 V107.05H192.80 V107.05H190.35 V107.05H187.90 V107.05H185.45 V107.05H183.00 V107.05H180.55 V107.05H178.10 V107.05H175.65 V107.05H173.20 V107.05H170.75 V107.05H168.30 V107.05H165.85 V107.05H163.40 V107.05H160.95 V107.05H158.50 V107.05H156.05 V107.05H153.60 V107.05H151.15 V107.05H148.70 V107.05H146.25 V107.05H143.80 V107.05H141.35 V107.05H138.90 V107.05H136.45 V107.05H134.00 V107.05H131.55 V107.05H129.10 V107.05H126.65 V107.05H124.20 V107.05H121.75 V107.00H119.30 V106.92H116.85 V106.84H114.40 V106.76H111.95 V106.69H109.50 V106.61H107.05 V106.53H104.60 V106.45H102.15 V106.37H99.70 V106.30H97.25 V106.22H94.80 V106.06H92.35 V105.70H89.90 V105.34H87.45 V104.97H85.00 V104.61H82.55 V104.24H80.10 V103.88H77.65 V103.51H75.20 V100.94H72.75 V98.22H70.30 V95.49H67.85 V92.09H65.40 V88.36H62.95 V84.63H60.50 V78.34H58.05 V71.40H55.60 V64.46H53.15 V57.16H50.70 V49.14H48.25 V41.12H45.80 V33.10Z" fill="rgba(120,210,90,0.21)"/>
<path d="M45.80,77.65H79.94" stroke="#111" stroke-width="1.0" stroke-dasharray="3,2" fill="none"/>
<path d="M62.46,77.65V122.20" stroke="#111" stroke-width="1.0" stroke-dasharray="3,2" fill="none"/>
<path d="M79.94,77.65V122.20" stroke="#111" stroke-width="1.0" stroke-dasharray="3,2" fill="none"/>
<path d="M45.80,33.10 H46.65V35.81 H47.55V36.74 H49.53V38.77 H55.49V39.40 H61.79V40.45 H65.13V41.12 H69.85V42.35 H71.46V43.83 H72.05V44.37 H74.39V45.93 H75.81V46.87 H77.84V48.21 H80.11V49.72 H82.72V51.45 H85.73V53.06 H87.70V54.02 H89.26V54.78 H92.08V56.15 H94.24V57.17 H97.27V57.64 H105.20V58.86 H108.62V59.39 H117.32V60.69 H123.95V61.87 H126.25V63.32 H127.91V64.36 H131.96V65.71 H135.01V66.47 H137.98V67.21 H140.96V68.45 H214.52" stroke="#1b3f7c" stroke-width="1.5" fill="none" />
<path d="M45.80,33.10 H46.81V34.83 H47.99V36.84 H49.15V38.82 H49.94V40.16 H50.88V41.76 H52.17V44.57 H53.03V46.48 H53.44V47.42 H54.08V48.84 H55.11V50.31 H56.17V51.59 H57.09V52.70 H57.50V53.19 H58.66V54.60 H59.78V56.12 H60.97V58.29 H61.94V60.04 H63.11V62.19 H64.31V64.37 H65.67V66.84 H66.19V67.80 H66.85V68.99 H68.22V71.46 H68.88V72.20 H70.35V73.82 H71.33V74.91 H72.54V76.25 H73.56V77.14 H77.04V78.32 H78.78V78.92 H80.97V79.67 H84.74V80.96 H92.45V82.11 H123.53V86.66 H124.54V89.16 H130.49V90.06 H136.21V91.30 H138.13V92.80 H182.62V103.22 H208.64" stroke="#c0202c" stroke-width="1.4" fill="none" stroke-dasharray="2.2,1.2"/>
<path d="M45.80,33.10 H46.33V34.54 H46.80V35.80 H47.51V37.72 H48.33V39.94 H49.09V42.01 H49.57V43.31 H50.66V46.24 H51.25V47.84 H52.43V51.04 H53.16V53.02 H54.72V57.23 H55.24V58.66 H55.90V60.44 H56.46V61.95 H57.39V64.47 H58.25V66.78 H58.70V68.02 H59.67V70.63 H60.33V72.43 H61.11V74.53 H62.17V77.39 H62.78V78.72 H63.61V80.14 H64.62V81.84 H65.83V83.88 H66.57V85.15 H67.91V86.79 H68.87V87.57 H70.87V90.75 H71.84V92.63 H73.51V93.57 H76.43V95.01 H78.35V95.52 H85.50V96.99 H89.21V97.54 H95.75V98.52 H106.07V99.82 H118.86V100.81 H125.08V101.27 H193.61" stroke="#3fae48" stroke-width="1.4" fill="none" stroke-dasharray="3.6,1.8"/>
<line x1="117.67" y1="59.65" x2="117.67" y2="61.85" stroke="#1b3f7c" stroke-width="0.6"/>
<line x1="127.46" y1="62.98" x2="127.46" y2="65.18" stroke="#1b3f7c" stroke-width="0.6"/>
<line x1="143.80" y1="67.91" x2="143.80" y2="70.11" stroke="#1b3f7c" stroke-width="0.6"/>
<line x1="153.60" y1="67.91" x2="153.60" y2="70.11" stroke="#1b3f7c" stroke-width="0.6"/>
<line x1="163.40" y1="67.91" x2="163.40" y2="70.11" stroke="#1b3f7c" stroke-width="0.6"/>
<line x1="176.46" y1="67.91" x2="176.46" y2="70.11" stroke="#1b3f7c" stroke-width="0.6"/>
<line x1="186.26" y1="67.91" x2="186.26" y2="70.11" stroke="#1b3f7c" stroke-width="0.6"/>
<line x1="199.33" y1="67.91" x2="199.33" y2="70.11" stroke="#1b3f7c" stroke-width="0.6"/>
<line x1="205.86" y1="67.91" x2="205.86" y2="70.11" stroke="#1b3f7c" stroke-width="0.6"/>
<line x1="212.40" y1="67.91" x2="212.40" y2="70.11" stroke="#1b3f7c" stroke-width="0.6"/>
<line x1="143.80" y1="91.70" x2="143.80" y2="93.90" stroke="#c0202c" stroke-width="0.6"/>
<line x1="150.33" y1="91.70" x2="150.33" y2="93.90" stroke="#c0202c" stroke-width="0.6"/>
<line x1="163.40" y1="91.70" x2="163.40" y2="93.90" stroke="#c0202c" stroke-width="0.6"/>
<line x1="183.00" y1="102.12" x2="183.00" y2="104.32" stroke="#c0202c" stroke-width="0.6"/>
<line x1="196.06" y1="102.12" x2="196.06" y2="104.32" stroke="#c0202c" stroke-width="0.6"/>
<line x1="127.46" y1="100.33" x2="127.46" y2="102.53" stroke="#3fae48" stroke-width="0.6"/>
<line x1="137.26" y1="100.98" x2="137.26" y2="103.18" stroke="#3fae48" stroke-width="0.6"/>
<line x1="147.06" y1="101.17" x2="147.06" y2="103.37" stroke="#3fae48" stroke-width="0.6"/>
<line x1="160.13" y1="101.21" x2="160.13" y2="103.41" stroke="#3fae48" stroke-width="0.6"/>
<line x1="176.46" y1="101.26" x2="176.46" y2="103.46" stroke="#3fae48" stroke-width="0.6"/>
<line x1="186.26" y1="101.30" x2="186.26" y2="103.50" stroke="#3fae48" stroke-width="0.6"/>
<path d="M36.1,29.6V122.20H251.5" stroke="#111" stroke-width="1.2" fill="none"/>
<line x1="32.4" y1="122.20" x2="36.1" y2="122.20" stroke="#111" stroke-width="0.9"/>
<text transform="translate(31.10,124.25)" font-size="5.85" text-anchor="end" fill="#111" font-weight="normal" stroke="#111" stroke-width="0.14">0%</text>
<line x1="32.4" y1="113.29" x2="36.1" y2="113.29" stroke="#111" stroke-width="0.9"/>
<text transform="translate(31.10,115.34)" font-size="5.85" text-anchor="end" fill="#111" font-weight="normal" stroke="#111" stroke-width="0.14">10%</text>
<line x1="32.4" y1="104.38" x2="36.1" y2="104.38" stroke="#111" stroke-width="0.9"/>
<text transform="translate(31.10,106.43)" font-size="5.85" text-anchor="end" fill="#111" font-weight="normal" stroke="#111" stroke-width="0.14">20%</text>
<line x1="32.4" y1="95.47" x2="36.1" y2="95.47" stroke="#111" stroke-width="0.9"/>
<text transform="translate(31.10,97.52)" font-size="5.85" text-anchor="end" fill="#111" font-weight="normal" stroke="#111" stroke-width="0.14">30%</text>
<line x1="32.4" y1="86.56" x2="36.1" y2="86.56" stroke="#111" stroke-width="0.9"/>
<text transform="translate(31.10,88.61)" font-size="5.85" text-anchor="end" fill="#111" font-weight="normal" stroke="#111" stroke-width="0.14">40%</text>
<line x1="32.4" y1="77.65" x2="36.1" y2="77.65" stroke="#111" stroke-width="0.9"/>
<text transform="translate(31.10,79.70)" font-size="5.85" text-anchor="end" fill="#111" font-weight="normal" stroke="#111" stroke-width="0.14">50%</text>
<line x1="32.4" y1="68.74" x2="36.1" y2="68.74" stroke="#111" stroke-width="0.9"/>
<text transform="translate(31.10,70.79)" font-size="5.85" text-anchor="end" fill="#111" font-weight="normal" stroke="#111" stroke-width="0.14">60%</text>
<line x1="32.4" y1="59.83" x2="36.1" y2="59.83" stroke="#111" stroke-width="0.9"/>
<text transform="translate(31.10,61.88)" font-size="5.85" text-anchor="end" fill="#111" font-weight="normal" stroke="#111" stroke-width="0.14">70%</text>
<line x1="32.4" y1="50.92" x2="36.1" y2="50.92" stroke="#111" stroke-width="0.9"/>
<text transform="translate(31.10,52.97)" font-size="5.85" text-anchor="end" fill="#111" font-weight="normal" stroke="#111" stroke-width="0.14">80%</text>
<line x1="32.4" y1="42.01" x2="36.1" y2="42.01" stroke="#111" stroke-width="0.9"/>
<text transform="translate(31.10,44.06)" font-size="5.85" text-anchor="end" fill="#111" font-weight="normal" stroke="#111" stroke-width="0.14">90%</text>
<line x1="32.4" y1="33.10" x2="36.1" y2="33.10" stroke="#111" stroke-width="0.9"/>
<text transform="translate(31.10,35.15)" font-size="5.85" text-anchor="end" fill="#111" font-weight="normal" stroke="#111" stroke-width="0.14">100%</text>
<line x1="45.80" y1="122.2" x2="45.80" y2="125.2" stroke="#111" stroke-width="0.9"/>
<text transform="translate(45.80,132.90)" font-size="5.85" text-anchor="middle" fill="#111" font-weight="normal" stroke="#111" stroke-width="0.1">0</text>
<line x1="65.40" y1="122.2" x2="65.40" y2="125.2" stroke="#111" stroke-width="0.9"/>
<text transform="translate(65.40,132.90)" font-size="5.85" text-anchor="middle" fill="#111" font-weight="normal" stroke="#111" stroke-width="0.1">12</text>
<line x1="85.00" y1="122.2" x2="85.00" y2="125.2" stroke="#111" stroke-width="0.9"/>
<text transform="translate(85.00,132.90)" font-size="5.85" text-anchor="middle" fill="#111" font-weight="normal" stroke="#111" stroke-width="0.1">24</text>
<line x1="104.60" y1="122.2" x2="104.60" y2="125.2" stroke="#111" stroke-width="0.9"/>
<text transform="translate(104.60,132.90)" font-size="5.85" text-anchor="middle" fill="#111" font-weight="normal" stroke="#111" stroke-width="0.1">36</text>
<line x1="124.20" y1="122.2" x2="124.20" y2="125.2" stroke="#111" stroke-width="0.9"/>
<text transform="translate(124.20,132.90)" font-size="5.85" text-anchor="middle" fill="#111" font-weight="normal" stroke="#111" stroke-width="0.1">48</text>
<line x1="143.80" y1="122.2" x2="143.80" y2="125.2" stroke="#111" stroke-width="0.9"/>
<text transform="translate(143.80,132.90)" font-size="5.85" text-anchor="middle" fill="#111" font-weight="normal" stroke="#111" stroke-width="0.1">60</text>
<line x1="163.40" y1="122.2" x2="163.40" y2="125.2" stroke="#111" stroke-width="0.9"/>
<text transform="translate(163.40,132.90)" font-size="5.85" text-anchor="middle" fill="#111" font-weight="normal" stroke="#111" stroke-width="0.1">72</text>
<line x1="183.00" y1="122.2" x2="183.00" y2="125.2" stroke="#111" stroke-width="0.9"/>
<text transform="translate(183.00,132.90)" font-size="5.85" text-anchor="middle" fill="#111" font-weight="normal" stroke="#111" stroke-width="0.1">84</text>
<line x1="202.60" y1="122.2" x2="202.60" y2="125.2" stroke="#111" stroke-width="0.9"/>
<text transform="translate(202.60,132.90)" font-size="5.85" text-anchor="middle" fill="#111" font-weight="normal" stroke="#111" stroke-width="0.1">96</text>
<line x1="222.20" y1="122.2" x2="222.20" y2="125.2" stroke="#111" stroke-width="0.9"/>
<text transform="translate(222.20,132.90)" font-size="5.85" text-anchor="middle" fill="#111" font-weight="normal" stroke="#111" stroke-width="0.1">108</text>
<line x1="241.80" y1="122.2" x2="241.80" y2="125.2" stroke="#111" stroke-width="0.9"/>
<text transform="translate(241.80,132.90)" font-size="5.85" text-anchor="middle" fill="#111" font-weight="normal" stroke="#111" stroke-width="0.1">120</text>
<text transform="translate(143.80,143.10) scale(0.64,1)" font-size="8.5" text-anchor="middle" fill="#2a2a2a" font-weight="bold" >Months</text>
<text transform="translate(13.4,76.2) rotate(-90) scale(0.56,1)" font-size="9.4" text-anchor="middle" fill="#2a2a2a" font-weight="normal" stroke="#2a2a2a" stroke-width="0.05">Survival probability</text>
<text transform="translate(38.40,150.00)" font-size="4.5" text-anchor="start" fill="#111" font-weight="normal" >N at risk (censored)</text>
<text transform="translate(35.50,158.80) scale(0.97,1)" font-size="4.6" text-anchor="end" fill="#3d5a94" font-weight="normal" >Favorable (Fav.)</text>
<text transform="translate(45.80,158.80) scale(0.9,1)" font-size="5.0" text-anchor="middle" fill="#3a3a3a" font-weight="normal" >117 (0)</text>
<text transform="translate(65.40,158.80) scale(0.9,1)" font-size="5.0" text-anchor="middle" fill="#3a3a3a" font-weight="normal" >91 (14)</text>
<text transform="translate(85.00,158.80) scale(0.9,1)" font-size="5.0" text-anchor="middle" fill="#3a3a3a" font-weight="normal" >61 (35)</text>
<text transform="translate(104.60,158.80) scale(0.9,1)" font-size="5.0" text-anchor="middle" fill="#3a3a3a" font-weight="normal" >45 (46)</text>
<text transform="translate(124.20,158.80) scale(0.9,1)" font-size="5.0" text-anchor="middle" fill="#3a3a3a" font-weight="normal" >32 (56)</text>
<text transform="translate(143.80,158.80) scale(0.9,1)" font-size="5.0" text-anchor="middle" fill="#3a3a3a" font-weight="normal" >25 (60)</text>
<text transform="translate(163.40,158.80) scale(0.9,1)" font-size="5.0" text-anchor="middle" fill="#3a3a3a" font-weight="normal" >10 (75)</text>
<text transform="translate(183.00,158.80) scale(0.9,1)" font-size="5.0" text-anchor="middle" fill="#3a3a3a" font-weight="normal" >8 (77)</text>
<text transform="translate(202.60,158.80) scale(0.9,1)" font-size="5.0" text-anchor="middle" fill="#3a3a3a" font-weight="normal" >3 (82)</text>
<text transform="translate(222.20,158.80) scale(0.9,1)" font-size="5.0" text-anchor="middle" fill="#3a3a3a" font-weight="normal" >0 (85)</text>
<text transform="translate(241.80,158.80) scale(0.9,1)" font-size="5.0" text-anchor="middle" fill="#3a3a3a" font-weight="normal" >0 (85)</text>
<text transform="translate(35.50,167.50) scale(0.97,1)" font-size="4.6" text-anchor="end" fill="#d2305f" font-weight="normal" >Intermediate (Int.)</text>
<text transform="translate(45.80,167.50) scale(0.9,1)" font-size="5.0" text-anchor="middle" fill="#3a3a3a" font-weight="normal" >92 (0)</text>
<text transform="translate(65.40,167.50) scale(0.9,1)" font-size="5.0" text-anchor="middle" fill="#3a3a3a" font-weight="normal" >48 (14)</text>
<text transform="translate(85.00,167.50) scale(0.9,1)" font-size="5.0" text-anchor="middle" fill="#3a3a3a" font-weight="normal" >29 (21)</text>
<text transform="translate(104.60,167.50) scale(0.9,1)" font-size="5.0" text-anchor="middle" fill="#3a3a3a" font-weight="normal" >20 (28)</text>
<text transform="translate(124.20,167.50) scale(0.9,1)" font-size="5.0" text-anchor="middle" fill="#3a3a3a" font-weight="normal" >13 (35)</text>
<text transform="translate(143.80,167.50) scale(0.9,1)" font-size="5.0" text-anchor="middle" fill="#3a3a3a" font-weight="normal" >8 (37)</text>
<text transform="translate(163.40,167.50) scale(0.9,1)" font-size="5.0" text-anchor="middle" fill="#3a3a3a" font-weight="normal" >4 (41)</text>
<text transform="translate(183.00,167.50) scale(0.9,1)" font-size="5.0" text-anchor="middle" fill="#3a3a3a" font-weight="normal" >2 (42)</text>
<text transform="translate(202.60,167.50) scale(0.9,1)" font-size="5.0" text-anchor="middle" fill="#3a3a3a" font-weight="normal" >1 (43)</text>
<text transform="translate(222.20,167.50) scale(0.9,1)" font-size="5.0" text-anchor="middle" fill="#3a3a3a" font-weight="normal" >0 (44)</text>
<text transform="translate(241.80,167.50) scale(0.9,1)" font-size="5.0" text-anchor="middle" fill="#3a3a3a" font-weight="normal" >0 (44)</text>
<text transform="translate(35.50,176.00) scale(0.97,1)" font-size="4.6" text-anchor="end" fill="#52a852" font-weight="normal" >Adverse (Adv.)</text>
<text transform="translate(45.80,176.00) scale(0.9,1)" font-size="5.0" text-anchor="middle" fill="#3a3a3a" font-weight="normal" >136 (0)</text>
<text transform="translate(65.40,176.00) scale(0.9,1)" font-size="5.0" text-anchor="middle" fill="#3a3a3a" font-weight="normal" >48 (16)</text>
<text transform="translate(85.00,176.00) scale(0.9,1)" font-size="5.0" text-anchor="middle" fill="#3a3a3a" font-weight="normal" >25 (23)</text>
<text transform="translate(104.60,176.00) scale(0.9,1)" font-size="5.0" text-anchor="middle" fill="#3a3a3a" font-weight="normal" >17 (28)</text>
<text transform="translate(124.20,176.00) scale(0.9,1)" font-size="5.0" text-anchor="middle" fill="#3a3a3a" font-weight="normal" >13 (31)</text>
<text transform="translate(143.80,176.00) scale(0.9,1)" font-size="5.0" text-anchor="middle" fill="#3a3a3a" font-weight="normal" >7 (37)</text>
<text transform="translate(163.40,176.00) scale(0.9,1)" font-size="5.0" text-anchor="middle" fill="#3a3a3a" font-weight="normal" >4 (40)</text>
<text transform="translate(183.00,176.00) scale(0.9,1)" font-size="5.0" text-anchor="middle" fill="#3a3a3a" font-weight="normal" >1 (43)</text>
<text transform="translate(202.60,176.00) scale(0.9,1)" font-size="5.0" text-anchor="middle" fill="#3a3a3a" font-weight="normal" >0 (44)</text>
<text transform="translate(222.20,176.00) scale(0.9,1)" font-size="5.0" text-anchor="middle" fill="#3a3a3a" font-weight="normal" >0 (44)</text>
<text transform="translate(241.80,176.00) scale(0.9,1)" font-size="5.0" text-anchor="middle" fill="#3a3a3a" font-weight="normal" >0 (44)</text>
</g>
</svg>
</body></html>
